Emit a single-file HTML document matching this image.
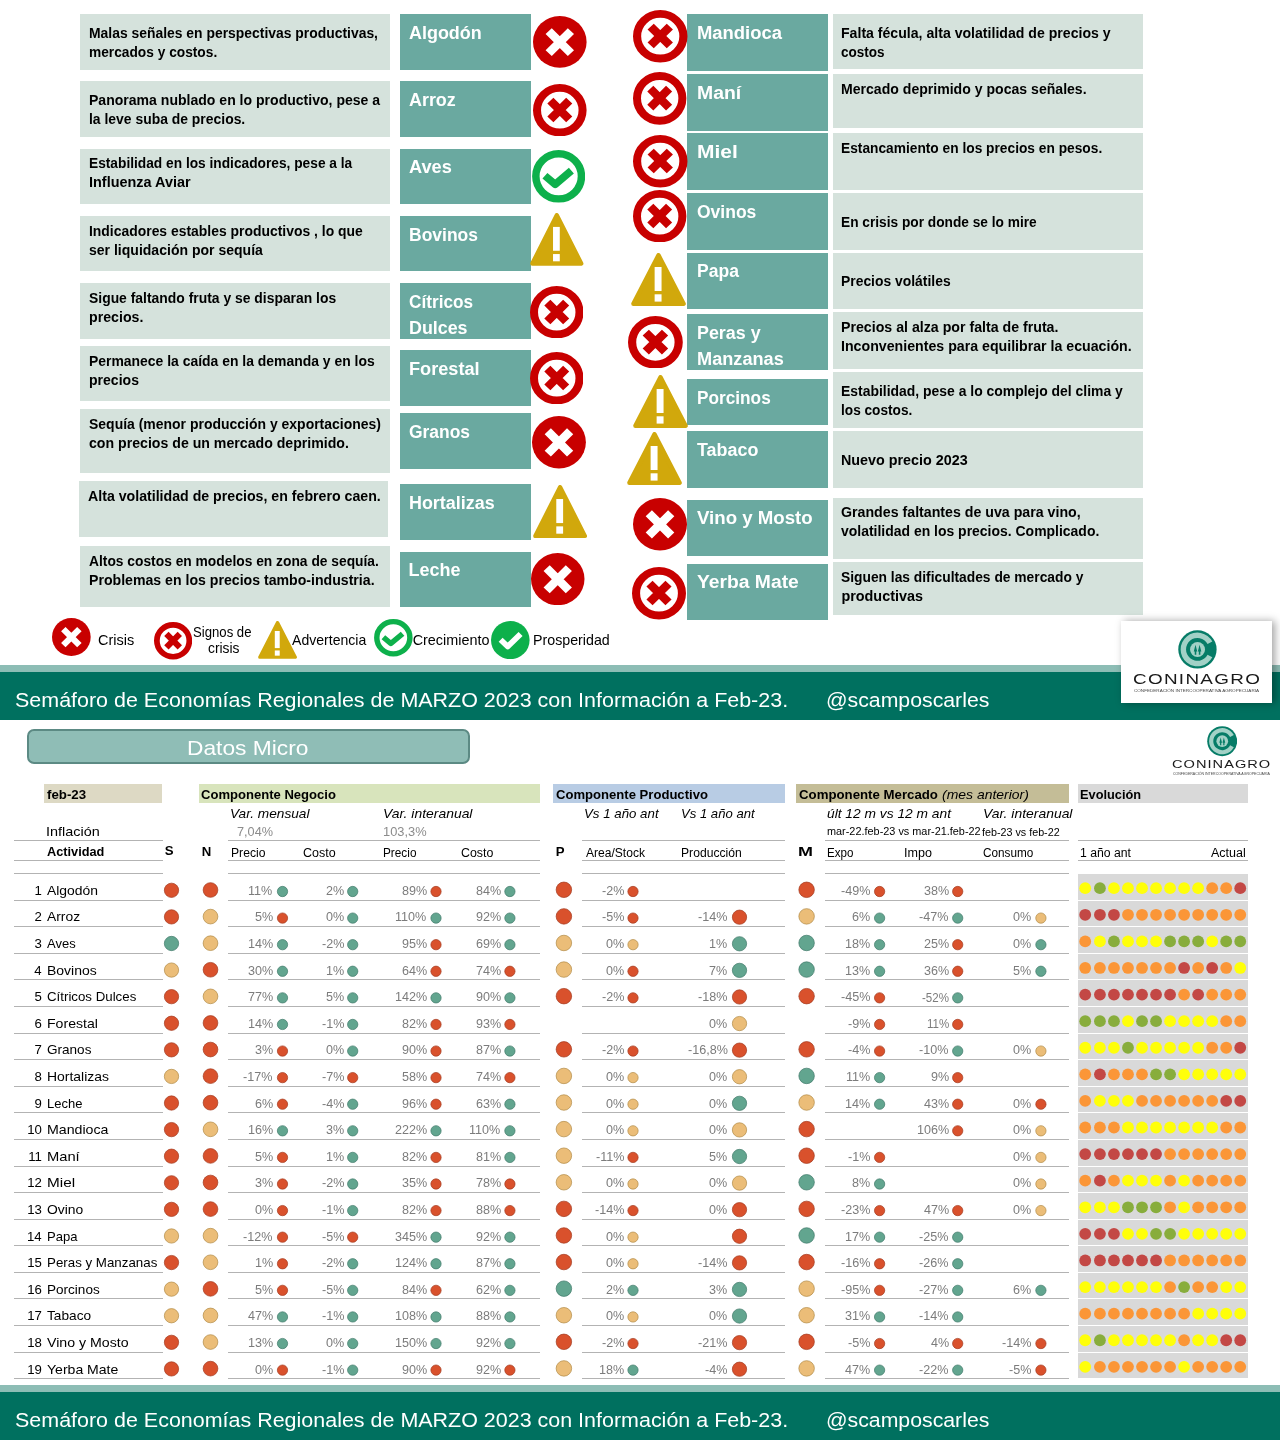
<!DOCTYPE html>
<html lang="es">
<head>
<meta charset="utf-8">
<meta name="viewport" content="width=1280">
<title>Semáforo de Economías Regionales - MARZO 2023</title>
<style>
html,body{margin:0;padding:0;background:#fff}
body{width:1280px;height:1440px;position:relative;overflow:hidden;font-family:"Liberation Sans",sans-serif;color:#000}
#pg{position:absolute;left:0;top:0;width:1280px;height:1440px;overflow:hidden;background:#fff}
.b,.t,.ic{position:absolute;display:block}
.t{white-space:pre;line-height:1;font-weight:400;font-style:normal;transform-origin:0 0}
.bd{font-weight:700}
.it{font-style:italic}
</style>
</head>
<body>
<div id="pg">
<div class="b" style="left:80px;top:14px;width:310px;height:56px;background:#d5e2dc;"></div>
<span class="t bd" style="left:89.05px;top:26px;font-size:14.4px;transform:scaleX(0.966);">Malas señales en perspectivas productivas,</span>
<span class="t bd" style="left:89.05px;top:45px;font-size:14.4px;transform:scaleX(0.954);">mercados y costos.</span>
<div class="b" style="left:80px;top:81px;width:310px;height:56px;background:#d5e2dc;"></div>
<span class="t bd" style="left:89.05px;top:93px;font-size:14.4px;transform:scaleX(0.976);">Panorama nublado en lo productivo, pese a</span>
<span class="t bd" style="left:89.05px;top:112px;font-size:14.4px;transform:scaleX(0.967);">la leve suba de precios.</span>
<div class="b" style="left:80px;top:149px;width:310px;height:55px;background:#d5e2dc;"></div>
<span class="t bd" style="left:89.05px;top:156px;font-size:14.4px;transform:scaleX(0.954);">Estabilidad en los indicadores, pese a la</span>
<span class="t bd" style="left:89.05px;top:175px;font-size:14.4px;transform:scaleX(1.003);">Influenza Aviar</span>
<div class="b" style="left:80px;top:216px;width:310px;height:55px;background:#d5e2dc;"></div>
<span class="t bd" style="left:89.05px;top:224px;font-size:14.4px;transform:scaleX(0.967);">Indicadores estables productivos , lo que</span>
<span class="t bd" style="left:89.05px;top:243px;font-size:14.4px;transform:scaleX(0.975);">ser liquidación por sequía</span>
<div class="b" style="left:80px;top:283px;width:310px;height:56px;background:#d5e2dc;"></div>
<span class="t bd" style="left:89.05px;top:291px;font-size:14.4px;transform:scaleX(0.966);">Sigue faltando fruta y se disparan los</span>
<span class="t bd" style="left:89.05px;top:310px;font-size:14.4px;transform:scaleX(0.985);">precios.</span>
<div class="b" style="left:80px;top:346px;width:310px;height:55px;background:#d5e2dc;"></div>
<span class="t bd" style="left:89.05px;top:354px;font-size:14.4px;transform:scaleX(0.968);">Permanece la caída en la demanda y en los</span>
<span class="t bd" style="left:89.05px;top:373px;font-size:14.4px;transform:scaleX(0.976);">precios</span>
<div class="b" style="left:80px;top:409px;width:310px;height:64px;background:#d5e2dc;"></div>
<span class="t bd" style="left:89.05px;top:417px;font-size:14.4px;transform:scaleX(0.971);">Sequía (menor producción y exportaciones)</span>
<span class="t bd" style="left:89.05px;top:436px;font-size:14.4px;transform:scaleX(0.982);">con precios de un mercado deprimido.</span>
<div class="b" style="left:79px;top:481px;width:309px;height:56px;background:#d5e2dc;"></div>
<span class="t bd" style="left:87.9px;top:489px;font-size:14.4px;transform:scaleX(0.984);">Alta volatilidad de precios, en febrero caen.</span>
<div class="b" style="left:80px;top:546px;width:310px;height:61px;background:#d5e2dc;"></div>
<span class="t bd" style="left:89.05px;top:554px;font-size:14.4px;transform:scaleX(0.959);">Altos costos en modelos en zona de sequía.</span>
<span class="t bd" style="left:89.05px;top:573px;font-size:14.4px;transform:scaleX(0.981);">Problemas en los precios tambo-industria.</span>
<div class="b" style="left:400px;top:14px;width:131px;height:56px;background:#6aa9a0;"></div>
<span class="t bd" style="left:408.5px;top:24px;font-size:18px;transform:scaleX(0.997);color:#fff;">Algodón</span>
<div class="b" style="left:400px;top:81px;width:131px;height:56px;background:#6aa9a0;"></div>
<span class="t bd" style="left:408.5px;top:91px;font-size:18px;transform:scaleX(0.995);color:#fff;">Arroz</span>
<div class="b" style="left:400px;top:149px;width:131px;height:55px;background:#6aa9a0;"></div>
<span class="t bd" style="left:408.5px;top:158px;font-size:18px;transform:scaleX(1.012);color:#fff;">Aves</span>
<div class="b" style="left:400px;top:216px;width:131px;height:55px;background:#6aa9a0;"></div>
<span class="t bd" style="left:408.5px;top:226px;font-size:18px;transform:scaleX(0.972);color:#fff;">Bovinos</span>
<div class="b" style="left:400px;top:283px;width:131px;height:56px;background:#6aa9a0;"></div>
<span class="t bd" style="left:408.5px;top:293px;font-size:18px;transform:scaleX(0.956);color:#fff;">Cítricos</span>
<span class="t bd" style="left:408.5px;top:319px;font-size:18px;transform:scaleX(0.992);color:#fff;">Dulces</span>
<div class="b" style="left:400px;top:350px;width:131px;height:56px;background:#6aa9a0;"></div>
<span class="t bd" style="left:408.5px;top:360px;font-size:18px;transform:scaleX(1.009);color:#fff;">Forestal</span>
<div class="b" style="left:400px;top:413px;width:131px;height:56px;background:#6aa9a0;"></div>
<span class="t bd" style="left:408.5px;top:423px;font-size:18px;transform:scaleX(0.969);color:#fff;">Granos</span>
<div class="b" style="left:400px;top:484px;width:131px;height:55.5px;background:#6aa9a0;"></div>
<span class="t bd" style="left:408.5px;top:494px;font-size:18px;transform:scaleX(0.995);color:#fff;">Hortalizas</span>
<div class="b" style="left:400px;top:552px;width:131px;height:55px;background:#6aa9a0;"></div>
<span class="t bd" style="left:408.5px;top:561px;font-size:18px;color:#fff;">Leche</span>
<div class="b" style="left:687px;top:14px;width:141px;height:56.75px;background:#6aa9a0;"></div>
<span class="t bd" style="left:696.9px;top:24px;font-size:18px;transform:scaleX(1.024);color:#fff;">Mandioca</span>
<div class="b" style="left:687px;top:74.25px;width:141px;height:56.5px;background:#6aa9a0;"></div>
<span class="t bd" style="left:696.9px;top:84px;font-size:18px;transform:scaleX(1.076);color:#fff;">Maní</span>
<div class="b" style="left:687px;top:133px;width:141px;height:57px;background:#6aa9a0;"></div>
<span class="t bd" style="left:696.9px;top:143px;font-size:18px;transform:scaleX(1.163);color:#fff;">Miel</span>
<div class="b" style="left:687px;top:193px;width:141px;height:57px;background:#6aa9a0;"></div>
<span class="t bd" style="left:696.9px;top:203px;font-size:18px;transform:scaleX(0.972);color:#fff;">Ovinos</span>
<div class="b" style="left:687px;top:253px;width:141px;height:56px;background:#6aa9a0;"></div>
<span class="t bd" style="left:696.9px;top:262px;font-size:18px;transform:scaleX(0.974);color:#fff;">Papa</span>
<div class="b" style="left:687px;top:314.25px;width:141px;height:55.75px;background:#6aa9a0;"></div>
<span class="t bd" style="left:696.9px;top:324px;font-size:18px;transform:scaleX(0.993);color:#fff;">Peras y</span>
<span class="t bd" style="left:696.9px;top:350px;font-size:18px;transform:scaleX(1.009);color:#fff;">Manzanas</span>
<div class="b" style="left:687px;top:379px;width:141px;height:46px;background:#6aa9a0;"></div>
<span class="t bd" style="left:696.9px;top:389px;font-size:18px;transform:scaleX(0.957);color:#fff;">Porcinos</span>
<div class="b" style="left:687px;top:431px;width:141px;height:57px;background:#6aa9a0;"></div>
<span class="t bd" style="left:696.9px;top:441px;font-size:18px;transform:scaleX(0.994);color:#fff;">Tabaco</span>
<div class="b" style="left:687px;top:500px;width:141px;height:56px;background:#6aa9a0;"></div>
<span class="t bd" style="left:696.9px;top:509px;font-size:18px;transform:scaleX(1.036);color:#fff;">Vino y Mosto</span>
<div class="b" style="left:687px;top:564px;width:141px;height:56px;background:#6aa9a0;"></div>
<span class="t bd" style="left:696.9px;top:573px;font-size:18px;transform:scaleX(1.071);color:#fff;">Yerba Mate</span>
<div class="b" style="left:833px;top:14px;width:310px;height:54.75px;background:#d5e2dc;"></div>
<span class="t bd" style="left:841.4px;top:26px;font-size:14.4px;transform:scaleX(0.980);">Falta fécula, alta volatilidad de precios y</span>
<span class="t bd" style="left:841.4px;top:45px;font-size:14.4px;transform:scaleX(0.940);">costos</span>
<div class="b" style="left:833px;top:74.25px;width:310px;height:53.75px;background:#d5e2dc;"></div>
<span class="t bd" style="left:841.4px;top:82px;font-size:14.4px;transform:scaleX(0.978);">Mercado deprimido y pocas señales.</span>
<div class="b" style="left:833px;top:133px;width:310px;height:57px;background:#d5e2dc;"></div>
<span class="t bd" style="left:841.4px;top:141px;font-size:14.4px;transform:scaleX(0.955);">Estancamiento en los precios en pesos.</span>
<div class="b" style="left:833px;top:193px;width:310px;height:57px;background:#d5e2dc;"></div>
<span class="t bd" style="left:841.4px;top:215px;font-size:14.4px;transform:scaleX(0.952);">En crisis por donde se lo mire</span>
<div class="b" style="left:833px;top:253px;width:310px;height:56px;background:#d5e2dc;"></div>
<span class="t bd" style="left:841.4px;top:274px;font-size:14.4px;transform:scaleX(0.965);">Precios volátiles</span>
<div class="b" style="left:833px;top:312px;width:310px;height:57px;background:#d5e2dc;"></div>
<span class="t bd" style="left:841.4px;top:320px;font-size:14.4px;transform:scaleX(0.985);">Precios al alza por falta de fruta.</span>
<span class="t bd" style="left:841.4px;top:339px;font-size:14.4px;transform:scaleX(0.985);">Inconvenientes para equilibrar la ecuación.</span>
<div class="b" style="left:833px;top:372px;width:310px;height:56px;background:#d5e2dc;"></div>
<span class="t bd" style="left:841.4px;top:384px;font-size:14.4px;transform:scaleX(0.968);">Estabilidad, pese a lo complejo del clima y</span>
<span class="t bd" style="left:841.4px;top:403px;font-size:14.4px;transform:scaleX(0.949);">los costos.</span>
<div class="b" style="left:833px;top:431px;width:310px;height:57px;background:#d5e2dc;"></div>
<span class="t bd" style="left:841.4px;top:453px;font-size:14.4px;transform:scaleX(0.996);">Nuevo precio 2023</span>
<div class="b" style="left:833px;top:498px;width:310px;height:61px;background:#d5e2dc;"></div>
<span class="t bd" style="left:841.4px;top:505px;font-size:14.4px;transform:scaleX(0.986);">Grandes faltantes de uva para vino,</span>
<span class="t bd" style="left:841.4px;top:524px;font-size:14.4px;transform:scaleX(0.970);">volatilidad en los precios. Complicado.</span>
<div class="b" style="left:833px;top:562px;width:310px;height:53px;background:#d5e2dc;"></div>
<span class="t bd" style="left:841.4px;top:570px;font-size:14.4px;transform:scaleX(0.959);">Siguen las dificultades de mercado y</span>
<span class="t bd" style="left:841.4px;top:589px;font-size:14.4px;">productivas</span>
<svg class="ic" style="left:533.4px;top:16.1px" width="53.6" height="51.8" viewBox="-27 -27 54 54" preserveAspectRatio="none"><circle r="27" fill="#c80000"/><path d="M-11.2-11.3 11.2 11.7M11.2-11.3-11.2 11.7" stroke="#fff" stroke-width="8.7" fill="none"/></svg>
<svg class="ic" style="left:533.4px;top:83.6px" width="53.6" height="52.4" viewBox="-27 -27 54 54" preserveAspectRatio="none"><circle r="22.95" fill="#fff" stroke="#c80000" stroke-width="8.1"/><path d="M-9.5-9.9 9.5 9.5M9.5-9.9-9.5 9.5" stroke="#c80000" stroke-width="8.6" fill="none"/></svg>
<svg class="ic" style="left:531.75px;top:150.05px" width="53.3" height="52.7" viewBox="-27 -27 54 54" preserveAspectRatio="none"><circle r="23.1" fill="#fff" stroke="#0db04b" stroke-width="7.6"/><path d="M-13.9-0.6-3.5 8.3 12.9-5.9" stroke="#0db04b" stroke-width="7.7" fill="none" stroke-linejoin="round"/></svg>
<svg class="ic" style="left:530.3px;top:213.1px" width="53.6" height="52.7" viewBox="0 0 54 53" preserveAspectRatio="none"><path d="M27 2.2 51.6 50.8H2.4Z" fill="#d1a80c" stroke="#d1a80c" stroke-width="4.4" stroke-linejoin="round"/><rect x="23.2" y="14" width="6.8" height="24" fill="#fff"/><rect x="23.2" y="41.3" width="6.8" height="7.3" fill="#fff"/></svg>
<svg class="ic" style="left:529.55px;top:285.5px" width="53.5" height="52.4" viewBox="-27 -27 54 54" preserveAspectRatio="none"><circle r="22.95" fill="#fff" stroke="#c80000" stroke-width="8.1"/><path d="M-9.5-9.9 9.5 9.5M9.5-9.9-9.5 9.5" stroke="#c80000" stroke-width="8.6" fill="none"/></svg>
<svg class="ic" style="left:529.55px;top:351.5px" width="53.5" height="52.4" viewBox="-27 -27 54 54" preserveAspectRatio="none"><circle r="22.95" fill="#fff" stroke="#c80000" stroke-width="8.1"/><path d="M-9.5-9.9 9.5 9.5M9.5-9.9-9.5 9.5" stroke="#c80000" stroke-width="8.6" fill="none"/></svg>
<svg class="ic" style="left:532.15px;top:416.25px" width="53.9" height="52.5" viewBox="-27 -27 54 54" preserveAspectRatio="none"><circle r="27" fill="#c80000"/><path d="M-11.2-11.3 11.2 11.7M11.2-11.3-11.2 11.7" stroke="#fff" stroke-width="8.7" fill="none"/></svg>
<svg class="ic" style="left:532.9px;top:484.9px" width="54.2" height="53.1" viewBox="0 0 54 53" preserveAspectRatio="none"><path d="M27 2.2 51.6 50.8H2.4Z" fill="#d1a80c" stroke="#d1a80c" stroke-width="4.4" stroke-linejoin="round"/><rect x="23.2" y="14" width="6.8" height="24" fill="#fff"/><rect x="23.2" y="41.3" width="6.8" height="7.3" fill="#fff"/></svg>
<svg class="ic" style="left:531.25px;top:553.3px" width="53.5" height="52.2" viewBox="-27 -27 54 54" preserveAspectRatio="none"><circle r="27" fill="#c80000"/><path d="M-11.2-11.3 11.2 11.7M11.2-11.3-11.2 11.7" stroke="#fff" stroke-width="8.7" fill="none"/></svg>
<svg class="ic" style="left:633.35px;top:10.2px" width="54.5" height="52.4" viewBox="-27 -27 54 54" preserveAspectRatio="none"><circle r="22.95" fill="#fff" stroke="#c80000" stroke-width="8.1"/><path d="M-9.5-9.9 9.5 9.5M9.5-9.9-9.5 9.5" stroke="#c80000" stroke-width="8.6" fill="none"/></svg>
<svg class="ic" style="left:633.4px;top:72.25px" width="53.4" height="52.7" viewBox="-27 -27 54 54" preserveAspectRatio="none"><circle r="22.95" fill="#fff" stroke="#c80000" stroke-width="8.1"/><path d="M-9.5-9.9 9.5 9.5M9.5-9.9-9.5 9.5" stroke="#c80000" stroke-width="8.6" fill="none"/></svg>
<svg class="ic" style="left:633.35px;top:135.2px" width="54.5" height="52.4" viewBox="-27 -27 54 54" preserveAspectRatio="none"><circle r="22.95" fill="#fff" stroke="#c80000" stroke-width="8.1"/><path d="M-9.5-9.9 9.5 9.5M9.5-9.9-9.5 9.5" stroke="#c80000" stroke-width="8.6" fill="none"/></svg>
<svg class="ic" style="left:633.4px;top:189.6px" width="53.4" height="52.4" viewBox="-27 -27 54 54" preserveAspectRatio="none"><circle r="22.95" fill="#fff" stroke="#c80000" stroke-width="8.1"/><path d="M-9.5-9.9 9.5 9.5M9.5-9.9-9.5 9.5" stroke="#c80000" stroke-width="8.6" fill="none"/></svg>
<svg class="ic" style="left:631px;top:253px" width="55" height="53" viewBox="0 0 54 53" preserveAspectRatio="none"><path d="M27 2.2 51.6 50.8H2.4Z" fill="#d1a80c" stroke="#d1a80c" stroke-width="4.4" stroke-linejoin="round"/><rect x="23.2" y="14" width="6.8" height="24" fill="#fff"/><rect x="23.2" y="41.3" width="6.8" height="7.3" fill="#fff"/></svg>
<svg class="ic" style="left:628.1px;top:315.5px" width="54.8" height="52.6" viewBox="-27 -27 54 54" preserveAspectRatio="none"><circle r="22.95" fill="#fff" stroke="#c80000" stroke-width="8.1"/><path d="M-9.5-9.9 9.5 9.5M9.5-9.9-9.5 9.5" stroke="#c80000" stroke-width="8.6" fill="none"/></svg>
<svg class="ic" style="left:633px;top:375px" width="55" height="53" viewBox="0 0 54 53" preserveAspectRatio="none"><path d="M27 2.2 51.6 50.8H2.4Z" fill="#d1a80c" stroke="#d1a80c" stroke-width="4.4" stroke-linejoin="round"/><rect x="23.2" y="14" width="6.8" height="24" fill="#fff"/><rect x="23.2" y="41.3" width="6.8" height="7.3" fill="#fff"/></svg>
<svg class="ic" style="left:627px;top:432px" width="55" height="53" viewBox="0 0 54 53" preserveAspectRatio="none"><path d="M27 2.2 51.6 50.8H2.4Z" fill="#d1a80c" stroke="#d1a80c" stroke-width="4.4" stroke-linejoin="round"/><rect x="23.2" y="14" width="6.8" height="24" fill="#fff"/><rect x="23.2" y="41.3" width="6.8" height="7.3" fill="#fff"/></svg>
<svg class="ic" style="left:633px;top:498.3px" width="54" height="52.4" viewBox="-27 -27 54 54" preserveAspectRatio="none"><circle r="27" fill="#c80000"/><path d="M-11.2-11.3 11.2 11.7M11.2-11.3-11.2 11.7" stroke="#fff" stroke-width="8.7" fill="none"/></svg>
<svg class="ic" style="left:632px;top:567.3px" width="54" height="52.4" viewBox="-27 -27 54 54" preserveAspectRatio="none"><circle r="22.95" fill="#fff" stroke="#c80000" stroke-width="8.1"/><path d="M-9.5-9.9 9.5 9.5M9.5-9.9-9.5 9.5" stroke="#c80000" stroke-width="8.6" fill="none"/></svg>
<svg class="ic" style="left:52.15px;top:618.2px" width="38.7" height="38" viewBox="-27 -27 54 54" preserveAspectRatio="none"><circle r="27" fill="#c80000"/><path d="M-11.2-11.3 11.2 11.7M11.2-11.3-11.2 11.7" stroke="#fff" stroke-width="8.7" fill="none"/></svg>
<span class="t" style="left:97.87px;top:633px;font-size:14.4px;transform:scaleX(1.009);">Crisis</span>
<svg class="ic" style="left:154.1px;top:622.25px" width="38.2" height="37.5" viewBox="-27 -27 54 54" preserveAspectRatio="none"><circle r="22.95" fill="#fff" stroke="#c80000" stroke-width="8.1"/><path d="M-9.5-9.9 9.5 9.5M9.5-9.9-9.5 9.5" stroke="#c80000" stroke-width="8.6" fill="none"/></svg>
<span class="t" style="left:193.41px;top:625px;font-size:14.4px;transform:scaleX(0.914);">Signos de</span>
<span class="t" style="left:207.71px;top:641px;font-size:14.4px;transform:scaleX(0.960);">crisis</span>
<svg class="ic" style="left:258px;top:621px" width="39.1" height="37.8" viewBox="0 0 54 53" preserveAspectRatio="none"><path d="M27 2.2 51.6 50.8H2.4Z" fill="#d1a80c" stroke="#d1a80c" stroke-width="4.4" stroke-linejoin="round"/><rect x="23.2" y="14" width="6.8" height="24" fill="#fff"/><rect x="23.2" y="41.3" width="6.8" height="7.3" fill="#fff"/></svg>
<span class="t" style="left:292.4px;top:633px;font-size:14.4px;transform:scaleX(0.977);">Advertencia</span>
<svg class="ic" style="left:373.95px;top:619.35px" width="38.7" height="37.5" viewBox="-27 -27 54 54" preserveAspectRatio="none"><circle r="23.1" fill="#fff" stroke="#0db04b" stroke-width="7.6"/><path d="M-13.9-0.6-3.5 8.3 12.9-5.9" stroke="#0db04b" stroke-width="7.7" fill="none" stroke-linejoin="round"/></svg>
<span class="t" style="left:412.68px;top:633px;font-size:14.4px;">Crecimiento</span>
<svg class="ic" style="left:491.2px;top:621px" width="38.6" height="38.2" viewBox="-27 -27 54 54" preserveAspectRatio="none"><circle r="27" fill="#0db04b"/><path d="M-13.5-0.5-3.6 9 14.4-8.6" stroke="#fff" stroke-width="8" fill="none" stroke-linejoin="round"/></svg>
<span class="t" style="left:532.76px;top:633px;font-size:14.4px;transform:scaleX(0.989);">Prosperidad</span>
<div class="b" style="left:0px;top:665px;width:1280px;height:7px;background:#8dbdb5;"></div>
<div class="b" style="left:0px;top:672px;width:1280px;height:48px;background:#00705f;"></div>
<span class="t" style="left:15.33px;top:690px;font-size:20.5px;transform:scaleX(1.047);color:#fff;">Semáforo de Economías Regionales de MARZO 2023 con Información a Feb-23.</span>
<span class="t" style="left:826.35px;top:690px;font-size:20.5px;transform:scaleX(1.037);color:#fff;">@scamposcarles</span>
<div class="b" style="left:1121px;top:621px;width:151px;height:82px;background:#fff;box-shadow:3px 0 8px rgba(0,0,0,.36);"></div>
<svg class="ic" style="left:1177.65px;top:629.65px" width="38.9" height="38.9" viewBox="-20 -20 40 40"><circle r="19.7" fill="#067c67"/><path d="M15.3-8.1A17.3 17.3 0 1 0 15.3 8.1L10.4 5.5A11.75 11.75 0 1 1 10.4-5.5Z" fill="#a2d1c6"/><circle cx=".1" r="7.7" fill="#a2d1c6"/><path d="M-2-4.9-.2 2H-1.2V5.5H-2.8V2H-3.8ZM2.2-4.9 4 2H3V5.5H1.4V2H.4Z" fill="#067c67"/></svg>
<span class="t" style="left:1133.26px;top:672px;font-size:14.8px;letter-spacing:1.04px;transform:scaleX(1.274);color:#1a1a1a;">CONINAGRO</span>
<svg class="ic" style="left:1134.2px;top:686.8px" width="125" height="6" viewBox="0 0 125 6"><text x="0" y="4.6" font-size="3.6" fill="#444" textLength="125" lengthAdjust="spacingAndGlyphs" font-family="Liberation Sans, sans-serif">CONFEDERACIÓN INTERCOOPERATIVA AGROPECUARIA</text></svg>
<div class="b" style="left:27px;top:729px;width:443px;height:35px;background:#8fbdb6;border:2px solid #5c8a84;border-radius:7px;box-sizing:border-box"></div>
<span class="t" style="left:186.98px;top:738px;font-size:20.6px;transform:scaleX(1.105);color:#fff;">Datos Micro</span>
<svg class="ic" style="left:1206.6px;top:726.3px" width="30.4" height="30.4" viewBox="-20 -20 40 40"><circle r="19.7" fill="#067c67"/><path d="M15.3-8.1A17.3 17.3 0 1 0 15.3 8.1L10.4 5.5A11.75 11.75 0 1 1 10.4-5.5Z" fill="#a2d1c6"/><circle cx=".1" r="7.7" fill="#a2d1c6"/><path d="M-2-4.9-.2 2H-1.2V5.5H-2.8V2H-3.8ZM2.2-4.9 4 2H3V5.5H1.4V2H.4Z" fill="#067c67"/></svg>
<span class="t" style="left:1172.37px;top:759px;font-size:11px;letter-spacing:0.77px;transform:scaleX(1.327);color:#1a1a1a;">CONINAGRO</span>
<svg class="ic" style="left:1173.1px;top:770.2px" width="96.8" height="6" viewBox="0 0 96.8 6"><text x="0" y="4.6" font-size="2.8" fill="#444" textLength="96.8" lengthAdjust="spacingAndGlyphs" font-family="Liberation Sans, sans-serif">CONFEDERACIÓN INTERCOOPERATIVA AGROPECUARIA</text></svg>
<div class="b" style="left:44px;top:784.4px;width:118px;height:18.3px;background:#ddd9c4;"></div>
<div class="b" style="left:199px;top:784.4px;width:341px;height:18.3px;background:#d8e4bc;"></div>
<div class="b" style="left:553px;top:784.4px;width:232px;height:18.3px;background:#b8cce4;"></div>
<div class="b" style="left:796.2px;top:784.4px;width:272.6px;height:18.3px;background:#c4bd97;"></div>
<div class="b" style="left:1078px;top:784.4px;width:170px;height:18.3px;background:#d9d9d9;"></div>
<span class="t bd" style="left:47.3px;top:788px;font-size:13.2px;transform:scaleX(1.007);">feb-23</span>
<span class="t bd" style="left:201.48px;top:788px;font-size:13.2px;transform:scaleX(0.990);">Componente Negocio</span>
<span class="t bd" style="left:555.78px;top:788px;font-size:13.2px;transform:scaleX(0.992);">Componente Productivo</span>
<span class="t bd" style="left:798.97px;top:788px;font-size:13.2px;transform:scaleX(1.003);">Componente Mercado</span>
<span class="t it" style="left:941.87px;top:788px;font-size:13.2px;transform:scaleX(1.058);">(mes anterior)</span>
<span class="t bd" style="left:1080.37px;top:788px;font-size:13.2px;transform:scaleX(0.969);">Evolución</span>
<span class="t it" style="left:230.14px;top:807px;font-size:13.2px;transform:scaleX(1.036);">Var. mensual</span>
<span class="t it" style="left:382.62px;top:807px;font-size:13.2px;transform:scaleX(1.055);">Var. interanual</span>
<span class="t it" style="left:584.37px;top:807px;font-size:13.2px;transform:scaleX(1.007);">Vs 1 año ant</span>
<span class="t it" style="left:680.88px;top:807px;font-size:13.2px;transform:scaleX(0.994);">Vs 1 año ant</span>
<span class="t it" style="left:827.45px;top:807px;font-size:13.2px;transform:scaleX(1.044);">últ 12 m vs 12 m ant</span>
<span class="t it" style="left:982.62px;top:807px;font-size:13.2px;transform:scaleX(1.055);">Var. interanual</span>
<span class="t" style="left:46.2px;top:825px;font-size:13.2px;transform:scaleX(1.093);">Inflación</span>
<span class="t" style="left:236.86px;top:825px;font-size:13.2px;transform:scaleX(0.963);color:#8c8c8c;">7,04%</span>
<span class="t" style="left:382.84px;top:825px;font-size:13.2px;transform:scaleX(0.974);color:#8c8c8c;">103,3%</span>
<span class="t" style="left:826.79px;top:826px;font-size:10.8px;transform:scaleX(1.008);">mar-22.feb-23 vs mar-21.feb-22</span>
<span class="t" style="left:982.37px;top:827px;font-size:10.8px;transform:scaleX(0.995);">feb-23 vs feb-22</span>
<div class="b" style="left:14px;top:840px;width:148.5px;height:1px;background:#b3b3b3"></div>
<div class="b" style="left:14px;top:860px;width:148.5px;height:1px;background:#b3b3b3"></div>
<div class="b" style="left:228.3px;top:840px;width:311.7px;height:1px;background:#b3b3b3"></div>
<div class="b" style="left:228.3px;top:860px;width:311.7px;height:1px;background:#b3b3b3"></div>
<div class="b" style="left:582px;top:840px;width:203px;height:1px;background:#b3b3b3"></div>
<div class="b" style="left:582px;top:860px;width:203px;height:1px;background:#b3b3b3"></div>
<div class="b" style="left:825px;top:840px;width:243.8px;height:1px;background:#b3b3b3"></div>
<div class="b" style="left:825px;top:860px;width:243.8px;height:1px;background:#b3b3b3"></div>
<div class="b" style="left:1078px;top:840px;width:170px;height:1px;background:#b3b3b3"></div>
<div class="b" style="left:1078px;top:860px;width:170px;height:1px;background:#b3b3b3"></div>
<span class="t bd" style="left:47.18px;top:845px;font-size:13.2px;transform:scaleX(0.967);">Actividad</span>
<span class="t bd" style="left:164.64px;top:844px;font-size:13.2px;">S</span>
<span class="t bd" style="left:201.64px;top:845px;font-size:13.2px;">N</span>
<span class="t bd" style="left:555.64px;top:845px;font-size:13.2px;">P</span>
<span class="t bd" style="left:798.43px;top:845px;font-size:13.6px;transform:scaleX(1.319);">M</span>
<span class="t" style="left:230.53px;top:847px;font-size:12px;transform:scaleX(1.014);">Precio</span>
<span class="t" style="left:302.68px;top:847px;font-size:12px;transform:scaleX(1.042);">Costo</span>
<span class="t" style="left:382.86px;top:847px;font-size:12px;transform:scaleX(0.983);">Precio</span>
<span class="t" style="left:460.68px;top:847px;font-size:12px;transform:scaleX(1.032);">Costo</span>
<span class="t" style="left:585.5px;top:847px;font-size:12px;transform:scaleX(1.005);">Area/Stock</span>
<span class="t" style="left:681.03px;top:847px;font-size:12px;transform:scaleX(1.012);">Producción</span>
<span class="t" style="left:827.37px;top:847px;font-size:12px;transform:scaleX(0.966);">Expo</span>
<span class="t" style="left:904.37px;top:847px;font-size:12px;transform:scaleX(1.047);">Impo</span>
<span class="t" style="left:982.71px;top:847px;font-size:12px;transform:scaleX(0.979);">Consumo</span>
<span class="t" style="left:1080.38px;top:847px;font-size:12px;transform:scaleX(1.019);">1 año ant</span>
<span class="t" style="left:1211px;top:847px;font-size:12px;transform:scaleX(1.044);">Actual</span>
<div class="b" style="left:1078px;top:874px;width:170px;height:505px;background:#d9d9d9;"></div>
<div class="b" style="left:14px;top:873px;width:148.5px;height:1px;background:#b3b3b3"></div>
<div class="b" style="left:228.3px;top:873px;width:311.7px;height:1px;background:#b3b3b3"></div>
<div class="b" style="left:582px;top:873px;width:203px;height:1px;background:#b3b3b3"></div>
<div class="b" style="left:825px;top:873px;width:243.8px;height:1px;background:#b3b3b3"></div>
<div class="b" style="left:14px;top:900px;width:148.5px;height:1px;background:#b3b3b3"></div>
<div class="b" style="left:228.3px;top:900px;width:311.7px;height:1px;background:#b3b3b3"></div>
<div class="b" style="left:582px;top:900px;width:203px;height:1px;background:#b3b3b3"></div>
<div class="b" style="left:825px;top:900px;width:243.8px;height:1px;background:#b3b3b3"></div>
<div class="b" style="left:1078px;top:900px;width:170px;height:1px;background:#fff"></div>
<div class="b" style="left:14px;top:926px;width:148.5px;height:1px;background:#b3b3b3"></div>
<div class="b" style="left:228.3px;top:926px;width:311.7px;height:1px;background:#b3b3b3"></div>
<div class="b" style="left:582px;top:926px;width:203px;height:1px;background:#b3b3b3"></div>
<div class="b" style="left:825px;top:926px;width:243.8px;height:1px;background:#b3b3b3"></div>
<div class="b" style="left:1078px;top:926px;width:170px;height:1px;background:#fff"></div>
<div class="b" style="left:14px;top:953px;width:148.5px;height:1px;background:#b3b3b3"></div>
<div class="b" style="left:228.3px;top:953px;width:311.7px;height:1px;background:#b3b3b3"></div>
<div class="b" style="left:582px;top:953px;width:203px;height:1px;background:#b3b3b3"></div>
<div class="b" style="left:825px;top:953px;width:243.8px;height:1px;background:#b3b3b3"></div>
<div class="b" style="left:1078px;top:953px;width:170px;height:1px;background:#fff"></div>
<div class="b" style="left:14px;top:979px;width:148.5px;height:1px;background:#b3b3b3"></div>
<div class="b" style="left:228.3px;top:979px;width:311.7px;height:1px;background:#b3b3b3"></div>
<div class="b" style="left:582px;top:979px;width:203px;height:1px;background:#b3b3b3"></div>
<div class="b" style="left:825px;top:979px;width:243.8px;height:1px;background:#b3b3b3"></div>
<div class="b" style="left:1078px;top:979px;width:170px;height:1px;background:#fff"></div>
<div class="b" style="left:14px;top:1006px;width:148.5px;height:1px;background:#b3b3b3"></div>
<div class="b" style="left:228.3px;top:1006px;width:311.7px;height:1px;background:#b3b3b3"></div>
<div class="b" style="left:582px;top:1006px;width:203px;height:1px;background:#b3b3b3"></div>
<div class="b" style="left:825px;top:1006px;width:243.8px;height:1px;background:#b3b3b3"></div>
<div class="b" style="left:1078px;top:1006px;width:170px;height:1px;background:#fff"></div>
<div class="b" style="left:14px;top:1033px;width:148.5px;height:1px;background:#b3b3b3"></div>
<div class="b" style="left:228.3px;top:1033px;width:311.7px;height:1px;background:#b3b3b3"></div>
<div class="b" style="left:582px;top:1033px;width:203px;height:1px;background:#b3b3b3"></div>
<div class="b" style="left:825px;top:1033px;width:243.8px;height:1px;background:#b3b3b3"></div>
<div class="b" style="left:1078px;top:1033px;width:170px;height:1px;background:#fff"></div>
<div class="b" style="left:14px;top:1059px;width:148.5px;height:1px;background:#b3b3b3"></div>
<div class="b" style="left:228.3px;top:1059px;width:311.7px;height:1px;background:#b3b3b3"></div>
<div class="b" style="left:582px;top:1059px;width:203px;height:1px;background:#b3b3b3"></div>
<div class="b" style="left:825px;top:1059px;width:243.8px;height:1px;background:#b3b3b3"></div>
<div class="b" style="left:1078px;top:1059px;width:170px;height:1px;background:#fff"></div>
<div class="b" style="left:14px;top:1086px;width:148.5px;height:1px;background:#b3b3b3"></div>
<div class="b" style="left:228.3px;top:1086px;width:311.7px;height:1px;background:#b3b3b3"></div>
<div class="b" style="left:582px;top:1086px;width:203px;height:1px;background:#b3b3b3"></div>
<div class="b" style="left:825px;top:1086px;width:243.8px;height:1px;background:#b3b3b3"></div>
<div class="b" style="left:1078px;top:1086px;width:170px;height:1px;background:#fff"></div>
<div class="b" style="left:14px;top:1112px;width:148.5px;height:1px;background:#b3b3b3"></div>
<div class="b" style="left:228.3px;top:1112px;width:311.7px;height:1px;background:#b3b3b3"></div>
<div class="b" style="left:582px;top:1112px;width:203px;height:1px;background:#b3b3b3"></div>
<div class="b" style="left:825px;top:1112px;width:243.8px;height:1px;background:#b3b3b3"></div>
<div class="b" style="left:1078px;top:1112px;width:170px;height:1px;background:#fff"></div>
<div class="b" style="left:14px;top:1139px;width:148.5px;height:1px;background:#b3b3b3"></div>
<div class="b" style="left:228.3px;top:1139px;width:311.7px;height:1px;background:#b3b3b3"></div>
<div class="b" style="left:582px;top:1139px;width:203px;height:1px;background:#b3b3b3"></div>
<div class="b" style="left:825px;top:1139px;width:243.8px;height:1px;background:#b3b3b3"></div>
<div class="b" style="left:1078px;top:1139px;width:170px;height:1px;background:#fff"></div>
<div class="b" style="left:14px;top:1166px;width:148.5px;height:1px;background:#b3b3b3"></div>
<div class="b" style="left:228.3px;top:1166px;width:311.7px;height:1px;background:#b3b3b3"></div>
<div class="b" style="left:582px;top:1166px;width:203px;height:1px;background:#b3b3b3"></div>
<div class="b" style="left:825px;top:1166px;width:243.8px;height:1px;background:#b3b3b3"></div>
<div class="b" style="left:1078px;top:1166px;width:170px;height:1px;background:#fff"></div>
<div class="b" style="left:14px;top:1192px;width:148.5px;height:1px;background:#b3b3b3"></div>
<div class="b" style="left:228.3px;top:1192px;width:311.7px;height:1px;background:#b3b3b3"></div>
<div class="b" style="left:582px;top:1192px;width:203px;height:1px;background:#b3b3b3"></div>
<div class="b" style="left:825px;top:1192px;width:243.8px;height:1px;background:#b3b3b3"></div>
<div class="b" style="left:1078px;top:1192px;width:170px;height:1px;background:#fff"></div>
<div class="b" style="left:14px;top:1219px;width:148.5px;height:1px;background:#b3b3b3"></div>
<div class="b" style="left:228.3px;top:1219px;width:311.7px;height:1px;background:#b3b3b3"></div>
<div class="b" style="left:582px;top:1219px;width:203px;height:1px;background:#b3b3b3"></div>
<div class="b" style="left:825px;top:1219px;width:243.8px;height:1px;background:#b3b3b3"></div>
<div class="b" style="left:1078px;top:1219px;width:170px;height:1px;background:#fff"></div>
<div class="b" style="left:14px;top:1245px;width:148.5px;height:1px;background:#b3b3b3"></div>
<div class="b" style="left:228.3px;top:1245px;width:311.7px;height:1px;background:#b3b3b3"></div>
<div class="b" style="left:582px;top:1245px;width:203px;height:1px;background:#b3b3b3"></div>
<div class="b" style="left:825px;top:1245px;width:243.8px;height:1px;background:#b3b3b3"></div>
<div class="b" style="left:1078px;top:1245px;width:170px;height:1px;background:#fff"></div>
<div class="b" style="left:14px;top:1272px;width:148.5px;height:1px;background:#b3b3b3"></div>
<div class="b" style="left:228.3px;top:1272px;width:311.7px;height:1px;background:#b3b3b3"></div>
<div class="b" style="left:582px;top:1272px;width:203px;height:1px;background:#b3b3b3"></div>
<div class="b" style="left:825px;top:1272px;width:243.8px;height:1px;background:#b3b3b3"></div>
<div class="b" style="left:1078px;top:1272px;width:170px;height:1px;background:#fff"></div>
<div class="b" style="left:14px;top:1298px;width:148.5px;height:1px;background:#b3b3b3"></div>
<div class="b" style="left:228.3px;top:1298px;width:311.7px;height:1px;background:#b3b3b3"></div>
<div class="b" style="left:582px;top:1298px;width:203px;height:1px;background:#b3b3b3"></div>
<div class="b" style="left:825px;top:1298px;width:243.8px;height:1px;background:#b3b3b3"></div>
<div class="b" style="left:1078px;top:1298px;width:170px;height:1px;background:#fff"></div>
<div class="b" style="left:14px;top:1325px;width:148.5px;height:1px;background:#b3b3b3"></div>
<div class="b" style="left:228.3px;top:1325px;width:311.7px;height:1px;background:#b3b3b3"></div>
<div class="b" style="left:582px;top:1325px;width:203px;height:1px;background:#b3b3b3"></div>
<div class="b" style="left:825px;top:1325px;width:243.8px;height:1px;background:#b3b3b3"></div>
<div class="b" style="left:1078px;top:1325px;width:170px;height:1px;background:#fff"></div>
<div class="b" style="left:14px;top:1352px;width:148.5px;height:1px;background:#b3b3b3"></div>
<div class="b" style="left:228.3px;top:1352px;width:311.7px;height:1px;background:#b3b3b3"></div>
<div class="b" style="left:582px;top:1352px;width:203px;height:1px;background:#b3b3b3"></div>
<div class="b" style="left:825px;top:1352px;width:243.8px;height:1px;background:#b3b3b3"></div>
<div class="b" style="left:1078px;top:1352px;width:170px;height:1px;background:#fff"></div>
<div class="b" style="left:14px;top:1378px;width:148.5px;height:1px;background:#b3b3b3"></div>
<div class="b" style="left:228.3px;top:1378px;width:311.7px;height:1px;background:#b3b3b3"></div>
<div class="b" style="left:582px;top:1378px;width:203px;height:1px;background:#b3b3b3"></div>
<div class="b" style="left:825px;top:1378px;width:243.8px;height:1px;background:#b3b3b3"></div>
<div class="b" style="left:1078px;top:1378px;width:170px;height:1px;background:#fff"></div>
<span class="t" style="left:34.6px;top:884px;font-size:13.2px;">1</span>
<span class="t" style="left:47px;top:884px;font-size:13.2px;transform:scaleX(1.054);">Algodón</span>
<span class="t" style="left:248.44px;top:884px;font-size:13.2px;transform:scaleX(0.955);color:#7c7c7c;">11%</span>
<span class="t" style="left:325.73px;top:884px;font-size:13.2px;transform:scaleX(0.955);color:#7c7c7c;">2%</span>
<span class="t" style="left:401.5px;top:884px;font-size:13.2px;transform:scaleX(0.955);color:#7c7c7c;">89%</span>
<span class="t" style="left:475.5px;top:884px;font-size:13.2px;transform:scaleX(0.955);color:#7c7c7c;">84%</span>
<span class="t" style="left:601.7px;top:884px;font-size:13.2px;transform:scaleX(0.955);color:#7c7c7c;">-2%</span>
<span class="t" style="left:840.51px;top:884px;font-size:13.2px;transform:scaleX(0.955);color:#7c7c7c;">-49%</span>
<span class="t" style="left:923.6px;top:884px;font-size:13.2px;transform:scaleX(0.955);color:#7c7c7c;">38%</span>
<span class="t" style="left:34.6px;top:910px;font-size:13.2px;">2</span>
<span class="t" style="left:47px;top:910px;font-size:13.2px;transform:scaleX(1.051);">Arroz</span>
<span class="t" style="left:254.53px;top:910px;font-size:13.2px;transform:scaleX(0.955);color:#7c7c7c;">5%</span>
<span class="t" style="left:325.73px;top:910px;font-size:13.2px;transform:scaleX(0.955);color:#7c7c7c;">0%</span>
<span class="t" style="left:395.42px;top:910px;font-size:13.2px;transform:scaleX(0.955);color:#7c7c7c;">110%</span>
<span class="t" style="left:475.5px;top:910px;font-size:13.2px;transform:scaleX(0.955);color:#7c7c7c;">92%</span>
<span class="t" style="left:601.7px;top:910px;font-size:13.2px;transform:scaleX(0.955);color:#7c7c7c;">-5%</span>
<span class="t" style="left:698.11px;top:910px;font-size:13.2px;transform:scaleX(0.955);color:#7c7c7c;">-14%</span>
<span class="t" style="left:851.73px;top:910px;font-size:13.2px;transform:scaleX(0.955);color:#7c7c7c;">6%</span>
<span class="t" style="left:919.41px;top:910px;font-size:13.2px;transform:scaleX(0.955);color:#7c7c7c;">-47%</span>
<span class="t" style="left:1013.43px;top:910px;font-size:13.2px;transform:scaleX(0.955);color:#7c7c7c;">0%</span>
<span class="t" style="left:34.53px;top:937px;font-size:13.2px;">3</span>
<span class="t" style="left:47px;top:937px;font-size:13.2px;transform:scaleX(0.984);">Aves</span>
<span class="t" style="left:247.5px;top:937px;font-size:13.2px;transform:scaleX(0.955);color:#7c7c7c;">14%</span>
<span class="t" style="left:321.5px;top:937px;font-size:13.2px;transform:scaleX(0.955);color:#7c7c7c;">-2%</span>
<span class="t" style="left:401.5px;top:937px;font-size:13.2px;transform:scaleX(0.955);color:#7c7c7c;">95%</span>
<span class="t" style="left:475.5px;top:937px;font-size:13.2px;transform:scaleX(0.955);color:#7c7c7c;">69%</span>
<span class="t" style="left:605.93px;top:937px;font-size:13.2px;transform:scaleX(0.955);color:#7c7c7c;">0%</span>
<span class="t" style="left:709.33px;top:937px;font-size:13.2px;transform:scaleX(0.955);color:#7c7c7c;">1%</span>
<span class="t" style="left:844.7px;top:937px;font-size:13.2px;transform:scaleX(0.955);color:#7c7c7c;">18%</span>
<span class="t" style="left:923.6px;top:937px;font-size:13.2px;transform:scaleX(0.955);color:#7c7c7c;">25%</span>
<span class="t" style="left:1013.43px;top:937px;font-size:13.2px;transform:scaleX(0.955);color:#7c7c7c;">0%</span>
<span class="t" style="left:34.34px;top:964px;font-size:13.2px;">4</span>
<span class="t" style="left:47px;top:964px;font-size:13.2px;transform:scaleX(1.061);">Bovinos</span>
<span class="t" style="left:247.5px;top:964px;font-size:13.2px;transform:scaleX(0.955);color:#7c7c7c;">30%</span>
<span class="t" style="left:325.73px;top:964px;font-size:13.2px;transform:scaleX(0.955);color:#7c7c7c;">1%</span>
<span class="t" style="left:401.5px;top:964px;font-size:13.2px;transform:scaleX(0.955);color:#7c7c7c;">64%</span>
<span class="t" style="left:475.5px;top:964px;font-size:13.2px;transform:scaleX(0.955);color:#7c7c7c;">74%</span>
<span class="t" style="left:605.93px;top:964px;font-size:13.2px;transform:scaleX(0.955);color:#7c7c7c;">0%</span>
<span class="t" style="left:709.33px;top:964px;font-size:13.2px;transform:scaleX(0.955);color:#7c7c7c;">7%</span>
<span class="t" style="left:844.7px;top:964px;font-size:13.2px;transform:scaleX(0.955);color:#7c7c7c;">13%</span>
<span class="t" style="left:923.6px;top:964px;font-size:13.2px;transform:scaleX(0.955);color:#7c7c7c;">36%</span>
<span class="t" style="left:1013.43px;top:964px;font-size:13.2px;transform:scaleX(0.955);color:#7c7c7c;">5%</span>
<span class="t" style="left:34.5px;top:990px;font-size:13.2px;">5</span>
<span class="t" style="left:47px;top:990px;font-size:13.2px;transform:scaleX(1.007);">Cítricos Dulces</span>
<span class="t" style="left:247.5px;top:990px;font-size:13.2px;transform:scaleX(0.955);color:#7c7c7c;">77%</span>
<span class="t" style="left:325.73px;top:990px;font-size:13.2px;transform:scaleX(0.955);color:#7c7c7c;">5%</span>
<span class="t" style="left:394.5px;top:990px;font-size:13.2px;transform:scaleX(0.955);color:#7c7c7c;">142%</span>
<span class="t" style="left:475.5px;top:990px;font-size:13.2px;transform:scaleX(0.955);color:#7c7c7c;">90%</span>
<span class="t" style="left:601.7px;top:990px;font-size:13.2px;transform:scaleX(0.955);color:#7c7c7c;">-2%</span>
<span class="t" style="left:698.11px;top:990px;font-size:13.2px;transform:scaleX(0.955);color:#7c7c7c;">-18%</span>
<span class="t" style="left:840.51px;top:990px;font-size:13.2px;transform:scaleX(0.955);color:#7c7c7c;">-45%</span>
<span class="t" style="left:921.82px;top:992px;font-size:12.1px;transform:scaleX(0.955);color:#7c7c7c;">-52%</span>
<span class="t" style="left:34.53px;top:1017px;font-size:13.2px;">6</span>
<span class="t" style="left:47px;top:1017px;font-size:13.2px;transform:scaleX(1.068);">Forestal</span>
<span class="t" style="left:247.5px;top:1017px;font-size:13.2px;transform:scaleX(0.955);color:#7c7c7c;">14%</span>
<span class="t" style="left:321.5px;top:1017px;font-size:13.2px;transform:scaleX(0.955);color:#7c7c7c;">-1%</span>
<span class="t" style="left:401.5px;top:1017px;font-size:13.2px;transform:scaleX(0.955);color:#7c7c7c;">82%</span>
<span class="t" style="left:475.5px;top:1017px;font-size:13.2px;transform:scaleX(0.955);color:#7c7c7c;">93%</span>
<span class="t" style="left:709.33px;top:1017px;font-size:13.2px;transform:scaleX(0.955);color:#7c7c7c;">0%</span>
<span class="t" style="left:847.5px;top:1017px;font-size:13.2px;transform:scaleX(0.955);color:#7c7c7c;">-9%</span>
<span class="t" style="left:926.53px;top:1018px;font-size:12.1px;transform:scaleX(0.955);color:#7c7c7c;">11%</span>
<span class="t" style="left:34.6px;top:1043px;font-size:13.2px;">7</span>
<span class="t" style="left:47px;top:1043px;font-size:13.2px;transform:scaleX(1.027);">Granos</span>
<span class="t" style="left:254.53px;top:1043px;font-size:13.2px;transform:scaleX(0.955);color:#7c7c7c;">3%</span>
<span class="t" style="left:325.73px;top:1043px;font-size:13.2px;transform:scaleX(0.955);color:#7c7c7c;">0%</span>
<span class="t" style="left:401.5px;top:1043px;font-size:13.2px;transform:scaleX(0.955);color:#7c7c7c;">90%</span>
<span class="t" style="left:475.5px;top:1043px;font-size:13.2px;transform:scaleX(0.955);color:#7c7c7c;">87%</span>
<span class="t" style="left:601.7px;top:1043px;font-size:13.2px;transform:scaleX(0.955);color:#7c7c7c;">-2%</span>
<span class="t" style="left:687.58px;top:1043px;font-size:13.2px;transform:scaleX(0.955);color:#7c7c7c;">-16,8%</span>
<span class="t" style="left:847.5px;top:1043px;font-size:13.2px;transform:scaleX(0.955);color:#7c7c7c;">-4%</span>
<span class="t" style="left:919.41px;top:1043px;font-size:13.2px;transform:scaleX(0.955);color:#7c7c7c;">-10%</span>
<span class="t" style="left:1013.43px;top:1043px;font-size:13.2px;transform:scaleX(0.955);color:#7c7c7c;">0%</span>
<span class="t" style="left:34.5px;top:1070px;font-size:13.2px;">8</span>
<span class="t" style="left:47px;top:1070px;font-size:13.2px;transform:scaleX(1.057);">Hortalizas</span>
<span class="t" style="left:243.31px;top:1070px;font-size:13.2px;transform:scaleX(0.955);color:#7c7c7c;">-17%</span>
<span class="t" style="left:321.5px;top:1070px;font-size:13.2px;transform:scaleX(0.955);color:#7c7c7c;">-7%</span>
<span class="t" style="left:401.5px;top:1070px;font-size:13.2px;transform:scaleX(0.955);color:#7c7c7c;">58%</span>
<span class="t" style="left:475.5px;top:1070px;font-size:13.2px;transform:scaleX(0.955);color:#7c7c7c;">74%</span>
<span class="t" style="left:605.93px;top:1070px;font-size:13.2px;transform:scaleX(0.955);color:#7c7c7c;">0%</span>
<span class="t" style="left:709.33px;top:1070px;font-size:13.2px;transform:scaleX(0.955);color:#7c7c7c;">0%</span>
<span class="t" style="left:845.64px;top:1070px;font-size:13.2px;transform:scaleX(0.955);color:#7c7c7c;">11%</span>
<span class="t" style="left:930.63px;top:1070px;font-size:13.2px;transform:scaleX(0.955);color:#7c7c7c;">9%</span>
<span class="t" style="left:34.57px;top:1097px;font-size:13.2px;">9</span>
<span class="t" style="left:47px;top:1097px;font-size:13.2px;transform:scaleX(0.985);">Leche</span>
<span class="t" style="left:254.53px;top:1097px;font-size:13.2px;transform:scaleX(0.955);color:#7c7c7c;">6%</span>
<span class="t" style="left:321.5px;top:1097px;font-size:13.2px;transform:scaleX(0.955);color:#7c7c7c;">-4%</span>
<span class="t" style="left:401.5px;top:1097px;font-size:13.2px;transform:scaleX(0.955);color:#7c7c7c;">96%</span>
<span class="t" style="left:475.5px;top:1097px;font-size:13.2px;transform:scaleX(0.955);color:#7c7c7c;">63%</span>
<span class="t" style="left:605.93px;top:1097px;font-size:13.2px;transform:scaleX(0.955);color:#7c7c7c;">0%</span>
<span class="t" style="left:709.33px;top:1097px;font-size:13.2px;transform:scaleX(0.955);color:#7c7c7c;">0%</span>
<span class="t" style="left:844.7px;top:1097px;font-size:13.2px;transform:scaleX(0.955);color:#7c7c7c;">14%</span>
<span class="t" style="left:923.6px;top:1097px;font-size:13.2px;transform:scaleX(0.955);color:#7c7c7c;">43%</span>
<span class="t" style="left:1013.43px;top:1097px;font-size:13.2px;transform:scaleX(0.955);color:#7c7c7c;">0%</span>
<span class="t" style="left:27.14px;top:1123px;font-size:13.2px;">10</span>
<span class="t" style="left:47px;top:1123px;font-size:13.2px;transform:scaleX(1.075);">Mandioca</span>
<span class="t" style="left:247.5px;top:1123px;font-size:13.2px;transform:scaleX(0.955);color:#7c7c7c;">16%</span>
<span class="t" style="left:325.73px;top:1123px;font-size:13.2px;transform:scaleX(0.955);color:#7c7c7c;">3%</span>
<span class="t" style="left:394.5px;top:1123px;font-size:13.2px;transform:scaleX(0.955);color:#7c7c7c;">222%</span>
<span class="t" style="left:469.42px;top:1123px;font-size:13.2px;transform:scaleX(0.955);color:#7c7c7c;">110%</span>
<span class="t" style="left:605.93px;top:1123px;font-size:13.2px;transform:scaleX(0.955);color:#7c7c7c;">0%</span>
<span class="t" style="left:709.33px;top:1123px;font-size:13.2px;transform:scaleX(0.955);color:#7c7c7c;">0%</span>
<span class="t" style="left:916.6px;top:1123px;font-size:13.2px;transform:scaleX(0.955);color:#7c7c7c;">106%</span>
<span class="t" style="left:1013.43px;top:1123px;font-size:13.2px;transform:scaleX(0.955);color:#7c7c7c;">0%</span>
<span class="t" style="left:28.23px;top:1150px;font-size:13.2px;">11</span>
<span class="t" style="left:47px;top:1150px;font-size:13.2px;transform:scaleX(1.115);">Maní</span>
<span class="t" style="left:254.53px;top:1150px;font-size:13.2px;transform:scaleX(0.955);color:#7c7c7c;">5%</span>
<span class="t" style="left:325.73px;top:1150px;font-size:13.2px;transform:scaleX(0.955);color:#7c7c7c;">1%</span>
<span class="t" style="left:401.5px;top:1150px;font-size:13.2px;transform:scaleX(0.955);color:#7c7c7c;">82%</span>
<span class="t" style="left:475.5px;top:1150px;font-size:13.2px;transform:scaleX(0.955);color:#7c7c7c;">81%</span>
<span class="t" style="left:595.65px;top:1150px;font-size:13.2px;transform:scaleX(0.955);color:#7c7c7c;">-11%</span>
<span class="t" style="left:709.33px;top:1150px;font-size:13.2px;transform:scaleX(0.955);color:#7c7c7c;">5%</span>
<span class="t" style="left:847.5px;top:1150px;font-size:13.2px;transform:scaleX(0.955);color:#7c7c7c;">-1%</span>
<span class="t" style="left:1013.43px;top:1150px;font-size:13.2px;transform:scaleX(0.955);color:#7c7c7c;">0%</span>
<span class="t" style="left:27.27px;top:1176px;font-size:13.2px;">12</span>
<span class="t" style="left:47px;top:1176px;font-size:13.2px;transform:scaleX(1.161);">Miel</span>
<span class="t" style="left:254.53px;top:1176px;font-size:13.2px;transform:scaleX(0.955);color:#7c7c7c;">3%</span>
<span class="t" style="left:321.5px;top:1176px;font-size:13.2px;transform:scaleX(0.955);color:#7c7c7c;">-2%</span>
<span class="t" style="left:401.5px;top:1176px;font-size:13.2px;transform:scaleX(0.955);color:#7c7c7c;">35%</span>
<span class="t" style="left:475.5px;top:1176px;font-size:13.2px;transform:scaleX(0.955);color:#7c7c7c;">78%</span>
<span class="t" style="left:605.93px;top:1176px;font-size:13.2px;transform:scaleX(0.955);color:#7c7c7c;">0%</span>
<span class="t" style="left:709.33px;top:1176px;font-size:13.2px;transform:scaleX(0.955);color:#7c7c7c;">0%</span>
<span class="t" style="left:851.73px;top:1176px;font-size:13.2px;transform:scaleX(0.955);color:#7c7c7c;">8%</span>
<span class="t" style="left:1013.43px;top:1176px;font-size:13.2px;transform:scaleX(0.955);color:#7c7c7c;">0%</span>
<span class="t" style="left:27.21px;top:1203px;font-size:13.2px;">13</span>
<span class="t" style="left:47px;top:1203px;font-size:13.2px;transform:scaleX(1.053);">Ovino</span>
<span class="t" style="left:254.53px;top:1203px;font-size:13.2px;transform:scaleX(0.955);color:#7c7c7c;">0%</span>
<span class="t" style="left:321.5px;top:1203px;font-size:13.2px;transform:scaleX(0.955);color:#7c7c7c;">-1%</span>
<span class="t" style="left:401.5px;top:1203px;font-size:13.2px;transform:scaleX(0.955);color:#7c7c7c;">82%</span>
<span class="t" style="left:475.5px;top:1203px;font-size:13.2px;transform:scaleX(0.955);color:#7c7c7c;">88%</span>
<span class="t" style="left:594.71px;top:1203px;font-size:13.2px;transform:scaleX(0.955);color:#7c7c7c;">-14%</span>
<span class="t" style="left:709.33px;top:1203px;font-size:13.2px;transform:scaleX(0.955);color:#7c7c7c;">0%</span>
<span class="t" style="left:840.51px;top:1203px;font-size:13.2px;transform:scaleX(0.955);color:#7c7c7c;">-23%</span>
<span class="t" style="left:923.6px;top:1203px;font-size:13.2px;transform:scaleX(0.955);color:#7c7c7c;">47%</span>
<span class="t" style="left:1013.43px;top:1203px;font-size:13.2px;transform:scaleX(0.955);color:#7c7c7c;">0%</span>
<span class="t" style="left:27.01px;top:1230px;font-size:13.2px;">14</span>
<span class="t" style="left:47px;top:1230px;font-size:13.2px;transform:scaleX(0.990);">Papa</span>
<span class="t" style="left:243.31px;top:1230px;font-size:13.2px;transform:scaleX(0.955);color:#7c7c7c;">-12%</span>
<span class="t" style="left:321.5px;top:1230px;font-size:13.2px;transform:scaleX(0.955);color:#7c7c7c;">-5%</span>
<span class="t" style="left:394.5px;top:1230px;font-size:13.2px;transform:scaleX(0.955);color:#7c7c7c;">345%</span>
<span class="t" style="left:475.5px;top:1230px;font-size:13.2px;transform:scaleX(0.955);color:#7c7c7c;">92%</span>
<span class="t" style="left:605.93px;top:1230px;font-size:13.2px;transform:scaleX(0.955);color:#7c7c7c;">0%</span>
<span class="t" style="left:844.7px;top:1230px;font-size:13.2px;transform:scaleX(0.955);color:#7c7c7c;">17%</span>
<span class="t" style="left:919.41px;top:1230px;font-size:13.2px;transform:scaleX(0.955);color:#7c7c7c;">-25%</span>
<span class="t" style="left:27.18px;top:1256px;font-size:13.2px;">15</span>
<span class="t" style="left:47px;top:1256px;font-size:13.2px;transform:scaleX(1.010);">Peras y Manzanas</span>
<span class="t" style="left:254.53px;top:1256px;font-size:13.2px;transform:scaleX(0.955);color:#7c7c7c;">1%</span>
<span class="t" style="left:321.5px;top:1256px;font-size:13.2px;transform:scaleX(0.955);color:#7c7c7c;">-2%</span>
<span class="t" style="left:394.5px;top:1256px;font-size:13.2px;transform:scaleX(0.955);color:#7c7c7c;">124%</span>
<span class="t" style="left:475.5px;top:1256px;font-size:13.2px;transform:scaleX(0.955);color:#7c7c7c;">87%</span>
<span class="t" style="left:605.93px;top:1256px;font-size:13.2px;transform:scaleX(0.955);color:#7c7c7c;">0%</span>
<span class="t" style="left:698.11px;top:1256px;font-size:13.2px;transform:scaleX(0.955);color:#7c7c7c;">-14%</span>
<span class="t" style="left:840.51px;top:1256px;font-size:13.2px;transform:scaleX(0.955);color:#7c7c7c;">-16%</span>
<span class="t" style="left:919.41px;top:1256px;font-size:13.2px;transform:scaleX(0.955);color:#7c7c7c;">-26%</span>
<span class="t" style="left:27.21px;top:1283px;font-size:13.2px;">16</span>
<span class="t" style="left:47px;top:1283px;font-size:13.2px;transform:scaleX(1.027);">Porcinos</span>
<span class="t" style="left:254.53px;top:1283px;font-size:13.2px;transform:scaleX(0.955);color:#7c7c7c;">5%</span>
<span class="t" style="left:321.5px;top:1283px;font-size:13.2px;transform:scaleX(0.955);color:#7c7c7c;">-5%</span>
<span class="t" style="left:401.5px;top:1283px;font-size:13.2px;transform:scaleX(0.955);color:#7c7c7c;">84%</span>
<span class="t" style="left:475.5px;top:1283px;font-size:13.2px;transform:scaleX(0.955);color:#7c7c7c;">62%</span>
<span class="t" style="left:605.93px;top:1283px;font-size:13.2px;transform:scaleX(0.955);color:#7c7c7c;">2%</span>
<span class="t" style="left:709.33px;top:1283px;font-size:13.2px;transform:scaleX(0.955);color:#7c7c7c;">3%</span>
<span class="t" style="left:840.51px;top:1283px;font-size:13.2px;transform:scaleX(0.955);color:#7c7c7c;">-95%</span>
<span class="t" style="left:919.41px;top:1283px;font-size:13.2px;transform:scaleX(0.955);color:#7c7c7c;">-27%</span>
<span class="t" style="left:1013.43px;top:1283px;font-size:13.2px;transform:scaleX(0.955);color:#7c7c7c;">6%</span>
<span class="t" style="left:27.27px;top:1309px;font-size:13.2px;">17</span>
<span class="t" style="left:47px;top:1309px;font-size:13.2px;transform:scaleX(1.037);">Tabaco</span>
<span class="t" style="left:247.5px;top:1309px;font-size:13.2px;transform:scaleX(0.955);color:#7c7c7c;">47%</span>
<span class="t" style="left:321.5px;top:1309px;font-size:13.2px;transform:scaleX(0.955);color:#7c7c7c;">-1%</span>
<span class="t" style="left:394.5px;top:1309px;font-size:13.2px;transform:scaleX(0.955);color:#7c7c7c;">108%</span>
<span class="t" style="left:475.5px;top:1309px;font-size:13.2px;transform:scaleX(0.955);color:#7c7c7c;">88%</span>
<span class="t" style="left:605.93px;top:1309px;font-size:13.2px;transform:scaleX(0.955);color:#7c7c7c;">0%</span>
<span class="t" style="left:709.33px;top:1309px;font-size:13.2px;transform:scaleX(0.955);color:#7c7c7c;">0%</span>
<span class="t" style="left:844.7px;top:1309px;font-size:13.2px;transform:scaleX(0.955);color:#7c7c7c;">31%</span>
<span class="t" style="left:919.41px;top:1309px;font-size:13.2px;transform:scaleX(0.955);color:#7c7c7c;">-14%</span>
<span class="t" style="left:27.18px;top:1336px;font-size:13.2px;">18</span>
<span class="t" style="left:47px;top:1336px;font-size:13.2px;transform:scaleX(1.073);">Vino y Mosto</span>
<span class="t" style="left:247.5px;top:1336px;font-size:13.2px;transform:scaleX(0.955);color:#7c7c7c;">13%</span>
<span class="t" style="left:325.73px;top:1336px;font-size:13.2px;transform:scaleX(0.955);color:#7c7c7c;">0%</span>
<span class="t" style="left:394.5px;top:1336px;font-size:13.2px;transform:scaleX(0.955);color:#7c7c7c;">150%</span>
<span class="t" style="left:475.5px;top:1336px;font-size:13.2px;transform:scaleX(0.955);color:#7c7c7c;">92%</span>
<span class="t" style="left:601.7px;top:1336px;font-size:13.2px;transform:scaleX(0.955);color:#7c7c7c;">-2%</span>
<span class="t" style="left:698.11px;top:1336px;font-size:13.2px;transform:scaleX(0.955);color:#7c7c7c;">-21%</span>
<span class="t" style="left:847.5px;top:1336px;font-size:13.2px;transform:scaleX(0.955);color:#7c7c7c;">-5%</span>
<span class="t" style="left:930.63px;top:1336px;font-size:13.2px;transform:scaleX(0.955);color:#7c7c7c;">4%</span>
<span class="t" style="left:1002.21px;top:1336px;font-size:13.2px;transform:scaleX(0.955);color:#7c7c7c;">-14%</span>
<span class="t" style="left:27.24px;top:1363px;font-size:13.2px;">19</span>
<span class="t" style="left:47px;top:1363px;font-size:13.2px;transform:scaleX(1.065);">Yerba Mate</span>
<span class="t" style="left:254.53px;top:1363px;font-size:13.2px;transform:scaleX(0.955);color:#7c7c7c;">0%</span>
<span class="t" style="left:321.5px;top:1363px;font-size:13.2px;transform:scaleX(0.955);color:#7c7c7c;">-1%</span>
<span class="t" style="left:401.5px;top:1363px;font-size:13.2px;transform:scaleX(0.955);color:#7c7c7c;">90%</span>
<span class="t" style="left:475.5px;top:1363px;font-size:13.2px;transform:scaleX(0.955);color:#7c7c7c;">92%</span>
<span class="t" style="left:598.9px;top:1363px;font-size:13.2px;transform:scaleX(0.955);color:#7c7c7c;">18%</span>
<span class="t" style="left:705.1px;top:1363px;font-size:13.2px;transform:scaleX(0.955);color:#7c7c7c;">-4%</span>
<span class="t" style="left:844.7px;top:1363px;font-size:13.2px;transform:scaleX(0.955);color:#7c7c7c;">47%</span>
<span class="t" style="left:919.41px;top:1363px;font-size:13.2px;transform:scaleX(0.955);color:#7c7c7c;">-22%</span>
<span class="t" style="left:1009.2px;top:1363px;font-size:13.2px;transform:scaleX(0.955);color:#7c7c7c;">-5%</span>
<svg class="ic" style="left:0;top:860px" width="1280" height="530" viewBox="0 860 1280 530"><circle cx="171.5" cy="890.3" r="7.15" fill="#d9512c" stroke="#a23a1e" stroke-width=".7"/><circle cx="210.5" cy="890" r="7.35" fill="#d9512c" stroke="#a23a1e" stroke-width=".7"/><circle cx="282.5" cy="891.5" r="5.15" fill="#62a58f" stroke="#3f7868" stroke-width=".7"/><circle cx="352.7" cy="891.5" r="5.15" fill="#62a58f" stroke="#3f7868" stroke-width=".7"/><circle cx="436" cy="891.5" r="5.15" fill="#d9512c" stroke="#a23a1e" stroke-width=".7"/><circle cx="509.9" cy="891.5" r="5.15" fill="#62a58f" stroke="#3f7868" stroke-width=".7"/><circle cx="563.9" cy="889.8" r="7.75" fill="#d9512c" stroke="#a23a1e" stroke-width=".7"/><circle cx="633" cy="891.5" r="5.15" fill="#d9512c" stroke="#a23a1e" stroke-width=".7"/><circle cx="806.6" cy="889.8" r="7.75" fill="#d9512c" stroke="#a23a1e" stroke-width=".7"/><circle cx="879.6" cy="891.5" r="5.15" fill="#d9512c" stroke="#a23a1e" stroke-width=".7"/><circle cx="957.7" cy="891.5" r="5.15" fill="#d9512c" stroke="#a23a1e" stroke-width=".7"/><circle cx="1085.2" cy="888.2" r="5.9" fill="#ffff0a"/><circle cx="1099.93" cy="888.2" r="5.9" fill="#88ad3c"/><circle cx="1113.96" cy="888.2" r="5.9" fill="#ffff0a"/><circle cx="1127.99" cy="888.2" r="5.9" fill="#ffff0a"/><circle cx="1142.02" cy="888.2" r="5.9" fill="#ffff0a"/><circle cx="1156.05" cy="888.2" r="5.9" fill="#ffff0a"/><circle cx="1170.08" cy="888.2" r="5.9" fill="#ffff0a"/><circle cx="1184.11" cy="888.2" r="5.9" fill="#ffff0a"/><circle cx="1198.14" cy="888.2" r="5.9" fill="#ffff0a"/><circle cx="1212.17" cy="888.2" r="5.9" fill="#fb9637"/><circle cx="1226.2" cy="888.2" r="5.9" fill="#fb9637"/><circle cx="1240.23" cy="888.2" r="5.9" fill="#c34845"/><circle cx="171.5" cy="916.89" r="7.15" fill="#d9512c" stroke="#a23a1e" stroke-width=".7"/><circle cx="210.5" cy="916.59" r="7.35" fill="#ebbd78" stroke="#b08a45" stroke-width=".7"/><circle cx="282.5" cy="918.09" r="5.15" fill="#d9512c" stroke="#a23a1e" stroke-width=".7"/><circle cx="352.7" cy="918.09" r="5.15" fill="#62a58f" stroke="#3f7868" stroke-width=".7"/><circle cx="436" cy="918.09" r="5.15" fill="#62a58f" stroke="#3f7868" stroke-width=".7"/><circle cx="509.9" cy="918.09" r="5.15" fill="#62a58f" stroke="#3f7868" stroke-width=".7"/><circle cx="563.9" cy="916.39" r="7.75" fill="#d9512c" stroke="#a23a1e" stroke-width=".7"/><circle cx="633" cy="918.09" r="5.15" fill="#d9512c" stroke="#a23a1e" stroke-width=".7"/><circle cx="739.5" cy="917.19" r="7.15" fill="#d9512c" stroke="#a23a1e" stroke-width=".7"/><circle cx="806.6" cy="916.39" r="7.75" fill="#ebbd78" stroke="#b08a45" stroke-width=".7"/><circle cx="879.6" cy="918.09" r="5.15" fill="#62a58f" stroke="#3f7868" stroke-width=".7"/><circle cx="957.7" cy="918.09" r="5.15" fill="#62a58f" stroke="#3f7868" stroke-width=".7"/><circle cx="1040.9" cy="918.09" r="5.15" fill="#ebbd78" stroke="#b08a45" stroke-width=".7"/><circle cx="1085.2" cy="914.79" r="5.9" fill="#c34845"/><circle cx="1099.93" cy="914.79" r="5.9" fill="#c34845"/><circle cx="1113.96" cy="914.79" r="5.9" fill="#c34845"/><circle cx="1127.99" cy="914.79" r="5.9" fill="#fb9637"/><circle cx="1142.02" cy="914.79" r="5.9" fill="#fb9637"/><circle cx="1156.05" cy="914.79" r="5.9" fill="#fb9637"/><circle cx="1170.08" cy="914.79" r="5.9" fill="#fb9637"/><circle cx="1184.11" cy="914.79" r="5.9" fill="#fb9637"/><circle cx="1198.14" cy="914.79" r="5.9" fill="#fb9637"/><circle cx="1212.17" cy="914.79" r="5.9" fill="#fb9637"/><circle cx="1226.2" cy="914.79" r="5.9" fill="#fb9637"/><circle cx="1240.23" cy="914.79" r="5.9" fill="#fb9637"/><circle cx="171.5" cy="943.48" r="7.15" fill="#62a58f" stroke="#3f7868" stroke-width=".7"/><circle cx="210.5" cy="943.18" r="7.35" fill="#ebbd78" stroke="#b08a45" stroke-width=".7"/><circle cx="282.5" cy="944.68" r="5.15" fill="#62a58f" stroke="#3f7868" stroke-width=".7"/><circle cx="352.7" cy="944.68" r="5.15" fill="#62a58f" stroke="#3f7868" stroke-width=".7"/><circle cx="436" cy="944.68" r="5.15" fill="#d9512c" stroke="#a23a1e" stroke-width=".7"/><circle cx="509.9" cy="944.68" r="5.15" fill="#62a58f" stroke="#3f7868" stroke-width=".7"/><circle cx="563.9" cy="942.98" r="7.75" fill="#ebbd78" stroke="#b08a45" stroke-width=".7"/><circle cx="633" cy="944.68" r="5.15" fill="#ebbd78" stroke="#b08a45" stroke-width=".7"/><circle cx="739.5" cy="943.78" r="7.15" fill="#62a58f" stroke="#3f7868" stroke-width=".7"/><circle cx="806.6" cy="942.98" r="7.75" fill="#62a58f" stroke="#3f7868" stroke-width=".7"/><circle cx="879.6" cy="944.68" r="5.15" fill="#62a58f" stroke="#3f7868" stroke-width=".7"/><circle cx="957.7" cy="944.68" r="5.15" fill="#d9512c" stroke="#a23a1e" stroke-width=".7"/><circle cx="1040.9" cy="944.68" r="5.15" fill="#62a58f" stroke="#3f7868" stroke-width=".7"/><circle cx="1085.2" cy="941.38" r="5.9" fill="#fb9637"/><circle cx="1099.93" cy="941.38" r="5.9" fill="#ffff0a"/><circle cx="1113.96" cy="941.38" r="5.9" fill="#88ad3c"/><circle cx="1127.99" cy="941.38" r="5.9" fill="#ffff0a"/><circle cx="1142.02" cy="941.38" r="5.9" fill="#ffff0a"/><circle cx="1156.05" cy="941.38" r="5.9" fill="#ffff0a"/><circle cx="1170.08" cy="941.38" r="5.9" fill="#88ad3c"/><circle cx="1184.11" cy="941.38" r="5.9" fill="#88ad3c"/><circle cx="1198.14" cy="941.38" r="5.9" fill="#88ad3c"/><circle cx="1212.17" cy="941.38" r="5.9" fill="#ffff0a"/><circle cx="1226.2" cy="941.38" r="5.9" fill="#88ad3c"/><circle cx="1240.23" cy="941.38" r="5.9" fill="#88ad3c"/><circle cx="171.5" cy="970.07" r="7.15" fill="#ebbd78" stroke="#b08a45" stroke-width=".7"/><circle cx="210.5" cy="969.77" r="7.35" fill="#d9512c" stroke="#a23a1e" stroke-width=".7"/><circle cx="282.5" cy="971.27" r="5.15" fill="#62a58f" stroke="#3f7868" stroke-width=".7"/><circle cx="352.7" cy="971.27" r="5.15" fill="#62a58f" stroke="#3f7868" stroke-width=".7"/><circle cx="436" cy="971.27" r="5.15" fill="#d9512c" stroke="#a23a1e" stroke-width=".7"/><circle cx="509.9" cy="971.27" r="5.15" fill="#d9512c" stroke="#a23a1e" stroke-width=".7"/><circle cx="563.9" cy="969.57" r="7.75" fill="#ebbd78" stroke="#b08a45" stroke-width=".7"/><circle cx="633" cy="971.27" r="5.15" fill="#d9512c" stroke="#a23a1e" stroke-width=".7"/><circle cx="739.5" cy="970.37" r="7.15" fill="#62a58f" stroke="#3f7868" stroke-width=".7"/><circle cx="806.6" cy="969.57" r="7.75" fill="#62a58f" stroke="#3f7868" stroke-width=".7"/><circle cx="879.6" cy="971.27" r="5.15" fill="#62a58f" stroke="#3f7868" stroke-width=".7"/><circle cx="957.7" cy="971.27" r="5.15" fill="#d9512c" stroke="#a23a1e" stroke-width=".7"/><circle cx="1040.9" cy="971.27" r="5.15" fill="#62a58f" stroke="#3f7868" stroke-width=".7"/><circle cx="1085.2" cy="967.97" r="5.9" fill="#fb9637"/><circle cx="1099.93" cy="967.97" r="5.9" fill="#fb9637"/><circle cx="1113.96" cy="967.97" r="5.9" fill="#fb9637"/><circle cx="1127.99" cy="967.97" r="5.9" fill="#fb9637"/><circle cx="1142.02" cy="967.97" r="5.9" fill="#fb9637"/><circle cx="1156.05" cy="967.97" r="5.9" fill="#fb9637"/><circle cx="1170.08" cy="967.97" r="5.9" fill="#fb9637"/><circle cx="1184.11" cy="967.97" r="5.9" fill="#c34845"/><circle cx="1198.14" cy="967.97" r="5.9" fill="#fb9637"/><circle cx="1212.17" cy="967.97" r="5.9" fill="#c34845"/><circle cx="1226.2" cy="967.97" r="5.9" fill="#fb9637"/><circle cx="1240.23" cy="967.97" r="5.9" fill="#ffff0a"/><circle cx="171.5" cy="996.66" r="7.15" fill="#d9512c" stroke="#a23a1e" stroke-width=".7"/><circle cx="210.5" cy="996.36" r="7.35" fill="#ebbd78" stroke="#b08a45" stroke-width=".7"/><circle cx="282.5" cy="997.86" r="5.15" fill="#62a58f" stroke="#3f7868" stroke-width=".7"/><circle cx="352.7" cy="997.86" r="5.15" fill="#62a58f" stroke="#3f7868" stroke-width=".7"/><circle cx="436" cy="997.86" r="5.15" fill="#62a58f" stroke="#3f7868" stroke-width=".7"/><circle cx="509.9" cy="997.86" r="5.15" fill="#62a58f" stroke="#3f7868" stroke-width=".7"/><circle cx="563.9" cy="996.16" r="7.75" fill="#d9512c" stroke="#a23a1e" stroke-width=".7"/><circle cx="633" cy="997.86" r="5.15" fill="#d9512c" stroke="#a23a1e" stroke-width=".7"/><circle cx="739.5" cy="996.96" r="7.15" fill="#d9512c" stroke="#a23a1e" stroke-width=".7"/><circle cx="806.6" cy="996.16" r="7.75" fill="#d9512c" stroke="#a23a1e" stroke-width=".7"/><circle cx="879.6" cy="997.86" r="5.15" fill="#d9512c" stroke="#a23a1e" stroke-width=".7"/><circle cx="957.7" cy="997.86" r="5.15" fill="#62a58f" stroke="#3f7868" stroke-width=".7"/><circle cx="1085.2" cy="994.56" r="5.9" fill="#c34845"/><circle cx="1099.93" cy="994.56" r="5.9" fill="#c34845"/><circle cx="1113.96" cy="994.56" r="5.9" fill="#c34845"/><circle cx="1127.99" cy="994.56" r="5.9" fill="#c34845"/><circle cx="1142.02" cy="994.56" r="5.9" fill="#c34845"/><circle cx="1156.05" cy="994.56" r="5.9" fill="#c34845"/><circle cx="1170.08" cy="994.56" r="5.9" fill="#c34845"/><circle cx="1184.11" cy="994.56" r="5.9" fill="#fb9637"/><circle cx="1198.14" cy="994.56" r="5.9" fill="#c34845"/><circle cx="1212.17" cy="994.56" r="5.9" fill="#fb9637"/><circle cx="1226.2" cy="994.56" r="5.9" fill="#fb9637"/><circle cx="1240.23" cy="994.56" r="5.9" fill="#fb9637"/><circle cx="171.5" cy="1023.25" r="7.15" fill="#d9512c" stroke="#a23a1e" stroke-width=".7"/><circle cx="210.5" cy="1022.95" r="7.35" fill="#d9512c" stroke="#a23a1e" stroke-width=".7"/><circle cx="282.5" cy="1024.45" r="5.15" fill="#62a58f" stroke="#3f7868" stroke-width=".7"/><circle cx="352.7" cy="1024.45" r="5.15" fill="#62a58f" stroke="#3f7868" stroke-width=".7"/><circle cx="436" cy="1024.45" r="5.15" fill="#d9512c" stroke="#a23a1e" stroke-width=".7"/><circle cx="509.9" cy="1024.45" r="5.15" fill="#d9512c" stroke="#a23a1e" stroke-width=".7"/><circle cx="739.5" cy="1023.55" r="7.15" fill="#ebbd78" stroke="#b08a45" stroke-width=".7"/><circle cx="879.6" cy="1024.45" r="5.15" fill="#d9512c" stroke="#a23a1e" stroke-width=".7"/><circle cx="957.7" cy="1024.45" r="5.15" fill="#d9512c" stroke="#a23a1e" stroke-width=".7"/><circle cx="1085.2" cy="1021.15" r="5.9" fill="#88ad3c"/><circle cx="1099.93" cy="1021.15" r="5.9" fill="#88ad3c"/><circle cx="1113.96" cy="1021.15" r="5.9" fill="#88ad3c"/><circle cx="1127.99" cy="1021.15" r="5.9" fill="#ffff0a"/><circle cx="1142.02" cy="1021.15" r="5.9" fill="#88ad3c"/><circle cx="1156.05" cy="1021.15" r="5.9" fill="#88ad3c"/><circle cx="1170.08" cy="1021.15" r="5.9" fill="#ffff0a"/><circle cx="1184.11" cy="1021.15" r="5.9" fill="#ffff0a"/><circle cx="1198.14" cy="1021.15" r="5.9" fill="#ffff0a"/><circle cx="1212.17" cy="1021.15" r="5.9" fill="#ffff0a"/><circle cx="1226.2" cy="1021.15" r="5.9" fill="#fb9637"/><circle cx="1240.23" cy="1021.15" r="5.9" fill="#fb9637"/><circle cx="171.5" cy="1049.84" r="7.15" fill="#d9512c" stroke="#a23a1e" stroke-width=".7"/><circle cx="210.5" cy="1049.54" r="7.35" fill="#d9512c" stroke="#a23a1e" stroke-width=".7"/><circle cx="282.5" cy="1051.04" r="5.15" fill="#d9512c" stroke="#a23a1e" stroke-width=".7"/><circle cx="352.7" cy="1051.04" r="5.15" fill="#62a58f" stroke="#3f7868" stroke-width=".7"/><circle cx="436" cy="1051.04" r="5.15" fill="#d9512c" stroke="#a23a1e" stroke-width=".7"/><circle cx="509.9" cy="1051.04" r="5.15" fill="#62a58f" stroke="#3f7868" stroke-width=".7"/><circle cx="563.9" cy="1049.34" r="7.75" fill="#d9512c" stroke="#a23a1e" stroke-width=".7"/><circle cx="633" cy="1051.04" r="5.15" fill="#d9512c" stroke="#a23a1e" stroke-width=".7"/><circle cx="739.5" cy="1050.14" r="7.15" fill="#d9512c" stroke="#a23a1e" stroke-width=".7"/><circle cx="806.6" cy="1049.34" r="7.75" fill="#d9512c" stroke="#a23a1e" stroke-width=".7"/><circle cx="879.6" cy="1051.04" r="5.15" fill="#d9512c" stroke="#a23a1e" stroke-width=".7"/><circle cx="957.7" cy="1051.04" r="5.15" fill="#62a58f" stroke="#3f7868" stroke-width=".7"/><circle cx="1040.9" cy="1051.04" r="5.15" fill="#ebbd78" stroke="#b08a45" stroke-width=".7"/><circle cx="1085.2" cy="1047.74" r="5.9" fill="#ffff0a"/><circle cx="1099.93" cy="1047.74" r="5.9" fill="#ffff0a"/><circle cx="1113.96" cy="1047.74" r="5.9" fill="#ffff0a"/><circle cx="1127.99" cy="1047.74" r="5.9" fill="#88ad3c"/><circle cx="1142.02" cy="1047.74" r="5.9" fill="#ffff0a"/><circle cx="1156.05" cy="1047.74" r="5.9" fill="#ffff0a"/><circle cx="1170.08" cy="1047.74" r="5.9" fill="#ffff0a"/><circle cx="1184.11" cy="1047.74" r="5.9" fill="#ffff0a"/><circle cx="1198.14" cy="1047.74" r="5.9" fill="#ffff0a"/><circle cx="1212.17" cy="1047.74" r="5.9" fill="#fb9637"/><circle cx="1226.2" cy="1047.74" r="5.9" fill="#fb9637"/><circle cx="1240.23" cy="1047.74" r="5.9" fill="#c34845"/><circle cx="171.5" cy="1076.43" r="7.15" fill="#ebbd78" stroke="#b08a45" stroke-width=".7"/><circle cx="210.5" cy="1076.13" r="7.35" fill="#d9512c" stroke="#a23a1e" stroke-width=".7"/><circle cx="282.5" cy="1077.63" r="5.15" fill="#d9512c" stroke="#a23a1e" stroke-width=".7"/><circle cx="352.7" cy="1077.63" r="5.15" fill="#d9512c" stroke="#a23a1e" stroke-width=".7"/><circle cx="436" cy="1077.63" r="5.15" fill="#d9512c" stroke="#a23a1e" stroke-width=".7"/><circle cx="509.9" cy="1077.63" r="5.15" fill="#d9512c" stroke="#a23a1e" stroke-width=".7"/><circle cx="563.9" cy="1075.93" r="7.75" fill="#ebbd78" stroke="#b08a45" stroke-width=".7"/><circle cx="633" cy="1077.63" r="5.15" fill="#ebbd78" stroke="#b08a45" stroke-width=".7"/><circle cx="739.5" cy="1076.73" r="7.15" fill="#ebbd78" stroke="#b08a45" stroke-width=".7"/><circle cx="806.6" cy="1075.93" r="7.75" fill="#62a58f" stroke="#3f7868" stroke-width=".7"/><circle cx="879.6" cy="1077.63" r="5.15" fill="#62a58f" stroke="#3f7868" stroke-width=".7"/><circle cx="957.7" cy="1077.63" r="5.15" fill="#d9512c" stroke="#a23a1e" stroke-width=".7"/><circle cx="1085.2" cy="1074.33" r="5.9" fill="#fb9637"/><circle cx="1099.93" cy="1074.33" r="5.9" fill="#c34845"/><circle cx="1113.96" cy="1074.33" r="5.9" fill="#fb9637"/><circle cx="1127.99" cy="1074.33" r="5.9" fill="#fb9637"/><circle cx="1142.02" cy="1074.33" r="5.9" fill="#fb9637"/><circle cx="1156.05" cy="1074.33" r="5.9" fill="#88ad3c"/><circle cx="1170.08" cy="1074.33" r="5.9" fill="#88ad3c"/><circle cx="1184.11" cy="1074.33" r="5.9" fill="#ffff0a"/><circle cx="1198.14" cy="1074.33" r="5.9" fill="#ffff0a"/><circle cx="1212.17" cy="1074.33" r="5.9" fill="#ffff0a"/><circle cx="1226.2" cy="1074.33" r="5.9" fill="#ffff0a"/><circle cx="1240.23" cy="1074.33" r="5.9" fill="#ffff0a"/><circle cx="171.5" cy="1103.02" r="7.15" fill="#d9512c" stroke="#a23a1e" stroke-width=".7"/><circle cx="210.5" cy="1102.72" r="7.35" fill="#d9512c" stroke="#a23a1e" stroke-width=".7"/><circle cx="282.5" cy="1104.22" r="5.15" fill="#d9512c" stroke="#a23a1e" stroke-width=".7"/><circle cx="352.7" cy="1104.22" r="5.15" fill="#62a58f" stroke="#3f7868" stroke-width=".7"/><circle cx="436" cy="1104.22" r="5.15" fill="#d9512c" stroke="#a23a1e" stroke-width=".7"/><circle cx="509.9" cy="1104.22" r="5.15" fill="#62a58f" stroke="#3f7868" stroke-width=".7"/><circle cx="563.9" cy="1102.52" r="7.75" fill="#ebbd78" stroke="#b08a45" stroke-width=".7"/><circle cx="633" cy="1104.22" r="5.15" fill="#ebbd78" stroke="#b08a45" stroke-width=".7"/><circle cx="739.5" cy="1103.32" r="7.15" fill="#62a58f" stroke="#3f7868" stroke-width=".7"/><circle cx="806.6" cy="1102.52" r="7.75" fill="#ebbd78" stroke="#b08a45" stroke-width=".7"/><circle cx="879.6" cy="1104.22" r="5.15" fill="#62a58f" stroke="#3f7868" stroke-width=".7"/><circle cx="957.7" cy="1104.22" r="5.15" fill="#d9512c" stroke="#a23a1e" stroke-width=".7"/><circle cx="1040.9" cy="1104.22" r="5.15" fill="#d9512c" stroke="#a23a1e" stroke-width=".7"/><circle cx="1085.2" cy="1100.92" r="5.9" fill="#fb9637"/><circle cx="1099.93" cy="1100.92" r="5.9" fill="#ffff0a"/><circle cx="1113.96" cy="1100.92" r="5.9" fill="#ffff0a"/><circle cx="1127.99" cy="1100.92" r="5.9" fill="#ffff0a"/><circle cx="1142.02" cy="1100.92" r="5.9" fill="#fb9637"/><circle cx="1156.05" cy="1100.92" r="5.9" fill="#fb9637"/><circle cx="1170.08" cy="1100.92" r="5.9" fill="#fb9637"/><circle cx="1184.11" cy="1100.92" r="5.9" fill="#fb9637"/><circle cx="1198.14" cy="1100.92" r="5.9" fill="#fb9637"/><circle cx="1212.17" cy="1100.92" r="5.9" fill="#fb9637"/><circle cx="1226.2" cy="1100.92" r="5.9" fill="#c34845"/><circle cx="1240.23" cy="1100.92" r="5.9" fill="#c34845"/><circle cx="171.5" cy="1129.61" r="7.15" fill="#d9512c" stroke="#a23a1e" stroke-width=".7"/><circle cx="210.5" cy="1129.31" r="7.35" fill="#ebbd78" stroke="#b08a45" stroke-width=".7"/><circle cx="282.5" cy="1130.81" r="5.15" fill="#62a58f" stroke="#3f7868" stroke-width=".7"/><circle cx="352.7" cy="1130.81" r="5.15" fill="#62a58f" stroke="#3f7868" stroke-width=".7"/><circle cx="436" cy="1130.81" r="5.15" fill="#62a58f" stroke="#3f7868" stroke-width=".7"/><circle cx="509.9" cy="1130.81" r="5.15" fill="#62a58f" stroke="#3f7868" stroke-width=".7"/><circle cx="563.9" cy="1129.11" r="7.75" fill="#ebbd78" stroke="#b08a45" stroke-width=".7"/><circle cx="633" cy="1130.81" r="5.15" fill="#ebbd78" stroke="#b08a45" stroke-width=".7"/><circle cx="739.5" cy="1129.91" r="7.15" fill="#ebbd78" stroke="#b08a45" stroke-width=".7"/><circle cx="806.6" cy="1129.11" r="7.75" fill="#d9512c" stroke="#a23a1e" stroke-width=".7"/><circle cx="957.7" cy="1130.81" r="5.15" fill="#d9512c" stroke="#a23a1e" stroke-width=".7"/><circle cx="1040.9" cy="1130.81" r="5.15" fill="#ebbd78" stroke="#b08a45" stroke-width=".7"/><circle cx="1085.2" cy="1127.51" r="5.9" fill="#fb9637"/><circle cx="1099.93" cy="1127.51" r="5.9" fill="#fb9637"/><circle cx="1113.96" cy="1127.51" r="5.9" fill="#fb9637"/><circle cx="1127.99" cy="1127.51" r="5.9" fill="#ffff0a"/><circle cx="1142.02" cy="1127.51" r="5.9" fill="#ffff0a"/><circle cx="1156.05" cy="1127.51" r="5.9" fill="#ffff0a"/><circle cx="1170.08" cy="1127.51" r="5.9" fill="#ffff0a"/><circle cx="1184.11" cy="1127.51" r="5.9" fill="#ffff0a"/><circle cx="1198.14" cy="1127.51" r="5.9" fill="#ffff0a"/><circle cx="1212.17" cy="1127.51" r="5.9" fill="#ffff0a"/><circle cx="1226.2" cy="1127.51" r="5.9" fill="#fb9637"/><circle cx="1240.23" cy="1127.51" r="5.9" fill="#fb9637"/><circle cx="171.5" cy="1156.2" r="7.15" fill="#d9512c" stroke="#a23a1e" stroke-width=".7"/><circle cx="210.5" cy="1155.9" r="7.35" fill="#d9512c" stroke="#a23a1e" stroke-width=".7"/><circle cx="282.5" cy="1157.4" r="5.15" fill="#d9512c" stroke="#a23a1e" stroke-width=".7"/><circle cx="352.7" cy="1157.4" r="5.15" fill="#62a58f" stroke="#3f7868" stroke-width=".7"/><circle cx="436" cy="1157.4" r="5.15" fill="#d9512c" stroke="#a23a1e" stroke-width=".7"/><circle cx="509.9" cy="1157.4" r="5.15" fill="#62a58f" stroke="#3f7868" stroke-width=".7"/><circle cx="563.9" cy="1155.7" r="7.75" fill="#ebbd78" stroke="#b08a45" stroke-width=".7"/><circle cx="633" cy="1157.4" r="5.15" fill="#d9512c" stroke="#a23a1e" stroke-width=".7"/><circle cx="739.5" cy="1156.5" r="7.15" fill="#62a58f" stroke="#3f7868" stroke-width=".7"/><circle cx="806.6" cy="1155.7" r="7.75" fill="#d9512c" stroke="#a23a1e" stroke-width=".7"/><circle cx="879.6" cy="1157.4" r="5.15" fill="#d9512c" stroke="#a23a1e" stroke-width=".7"/><circle cx="1040.9" cy="1157.4" r="5.15" fill="#ebbd78" stroke="#b08a45" stroke-width=".7"/><circle cx="1085.2" cy="1154.1" r="5.9" fill="#c34845"/><circle cx="1099.93" cy="1154.1" r="5.9" fill="#c34845"/><circle cx="1113.96" cy="1154.1" r="5.9" fill="#c34845"/><circle cx="1127.99" cy="1154.1" r="5.9" fill="#c34845"/><circle cx="1142.02" cy="1154.1" r="5.9" fill="#c34845"/><circle cx="1156.05" cy="1154.1" r="5.9" fill="#c34845"/><circle cx="1170.08" cy="1154.1" r="5.9" fill="#fb9637"/><circle cx="1184.11" cy="1154.1" r="5.9" fill="#fb9637"/><circle cx="1198.14" cy="1154.1" r="5.9" fill="#fb9637"/><circle cx="1212.17" cy="1154.1" r="5.9" fill="#fb9637"/><circle cx="1226.2" cy="1154.1" r="5.9" fill="#fb9637"/><circle cx="1240.23" cy="1154.1" r="5.9" fill="#fb9637"/><circle cx="171.5" cy="1182.79" r="7.15" fill="#d9512c" stroke="#a23a1e" stroke-width=".7"/><circle cx="210.5" cy="1182.49" r="7.35" fill="#d9512c" stroke="#a23a1e" stroke-width=".7"/><circle cx="282.5" cy="1183.99" r="5.15" fill="#d9512c" stroke="#a23a1e" stroke-width=".7"/><circle cx="352.7" cy="1183.99" r="5.15" fill="#62a58f" stroke="#3f7868" stroke-width=".7"/><circle cx="436" cy="1183.99" r="5.15" fill="#d9512c" stroke="#a23a1e" stroke-width=".7"/><circle cx="509.9" cy="1183.99" r="5.15" fill="#d9512c" stroke="#a23a1e" stroke-width=".7"/><circle cx="563.9" cy="1182.29" r="7.75" fill="#ebbd78" stroke="#b08a45" stroke-width=".7"/><circle cx="633" cy="1183.99" r="5.15" fill="#ebbd78" stroke="#b08a45" stroke-width=".7"/><circle cx="739.5" cy="1183.09" r="7.15" fill="#ebbd78" stroke="#b08a45" stroke-width=".7"/><circle cx="806.6" cy="1182.29" r="7.75" fill="#62a58f" stroke="#3f7868" stroke-width=".7"/><circle cx="879.6" cy="1183.99" r="5.15" fill="#62a58f" stroke="#3f7868" stroke-width=".7"/><circle cx="1040.9" cy="1183.99" r="5.15" fill="#ebbd78" stroke="#b08a45" stroke-width=".7"/><circle cx="1085.2" cy="1180.69" r="5.9" fill="#fb9637"/><circle cx="1099.93" cy="1180.69" r="5.9" fill="#c34845"/><circle cx="1113.96" cy="1180.69" r="5.9" fill="#fb9637"/><circle cx="1127.99" cy="1180.69" r="5.9" fill="#ffff0a"/><circle cx="1142.02" cy="1180.69" r="5.9" fill="#ffff0a"/><circle cx="1156.05" cy="1180.69" r="5.9" fill="#ffff0a"/><circle cx="1170.08" cy="1180.69" r="5.9" fill="#fb9637"/><circle cx="1184.11" cy="1180.69" r="5.9" fill="#ffff0a"/><circle cx="1198.14" cy="1180.69" r="5.9" fill="#fb9637"/><circle cx="1212.17" cy="1180.69" r="5.9" fill="#fb9637"/><circle cx="1226.2" cy="1180.69" r="5.9" fill="#fb9637"/><circle cx="1240.23" cy="1180.69" r="5.9" fill="#fb9637"/><circle cx="171.5" cy="1209.38" r="7.15" fill="#d9512c" stroke="#a23a1e" stroke-width=".7"/><circle cx="210.5" cy="1209.08" r="7.35" fill="#d9512c" stroke="#a23a1e" stroke-width=".7"/><circle cx="282.5" cy="1210.58" r="5.15" fill="#d9512c" stroke="#a23a1e" stroke-width=".7"/><circle cx="352.7" cy="1210.58" r="5.15" fill="#62a58f" stroke="#3f7868" stroke-width=".7"/><circle cx="436" cy="1210.58" r="5.15" fill="#d9512c" stroke="#a23a1e" stroke-width=".7"/><circle cx="509.9" cy="1210.58" r="5.15" fill="#d9512c" stroke="#a23a1e" stroke-width=".7"/><circle cx="563.9" cy="1208.88" r="7.75" fill="#d9512c" stroke="#a23a1e" stroke-width=".7"/><circle cx="633" cy="1210.58" r="5.15" fill="#d9512c" stroke="#a23a1e" stroke-width=".7"/><circle cx="739.5" cy="1209.68" r="7.15" fill="#d9512c" stroke="#a23a1e" stroke-width=".7"/><circle cx="806.6" cy="1208.88" r="7.75" fill="#d9512c" stroke="#a23a1e" stroke-width=".7"/><circle cx="879.6" cy="1210.58" r="5.15" fill="#d9512c" stroke="#a23a1e" stroke-width=".7"/><circle cx="957.7" cy="1210.58" r="5.15" fill="#d9512c" stroke="#a23a1e" stroke-width=".7"/><circle cx="1040.9" cy="1210.58" r="5.15" fill="#ebbd78" stroke="#b08a45" stroke-width=".7"/><circle cx="1085.2" cy="1207.28" r="5.9" fill="#ffff0a"/><circle cx="1099.93" cy="1207.28" r="5.9" fill="#ffff0a"/><circle cx="1113.96" cy="1207.28" r="5.9" fill="#ffff0a"/><circle cx="1127.99" cy="1207.28" r="5.9" fill="#88ad3c"/><circle cx="1142.02" cy="1207.28" r="5.9" fill="#88ad3c"/><circle cx="1156.05" cy="1207.28" r="5.9" fill="#88ad3c"/><circle cx="1170.08" cy="1207.28" r="5.9" fill="#fb9637"/><circle cx="1184.11" cy="1207.28" r="5.9" fill="#ffff0a"/><circle cx="1198.14" cy="1207.28" r="5.9" fill="#fb9637"/><circle cx="1212.17" cy="1207.28" r="5.9" fill="#fb9637"/><circle cx="1226.2" cy="1207.28" r="5.9" fill="#fb9637"/><circle cx="1240.23" cy="1207.28" r="5.9" fill="#fb9637"/><circle cx="171.5" cy="1235.97" r="7.15" fill="#ebbd78" stroke="#b08a45" stroke-width=".7"/><circle cx="210.5" cy="1235.67" r="7.35" fill="#ebbd78" stroke="#b08a45" stroke-width=".7"/><circle cx="282.5" cy="1237.17" r="5.15" fill="#d9512c" stroke="#a23a1e" stroke-width=".7"/><circle cx="352.7" cy="1237.17" r="5.15" fill="#d9512c" stroke="#a23a1e" stroke-width=".7"/><circle cx="436" cy="1237.17" r="5.15" fill="#62a58f" stroke="#3f7868" stroke-width=".7"/><circle cx="509.9" cy="1237.17" r="5.15" fill="#62a58f" stroke="#3f7868" stroke-width=".7"/><circle cx="563.9" cy="1235.47" r="7.75" fill="#d9512c" stroke="#a23a1e" stroke-width=".7"/><circle cx="633" cy="1237.17" r="5.15" fill="#ebbd78" stroke="#b08a45" stroke-width=".7"/><circle cx="739.5" cy="1236.27" r="7.15" fill="#d9512c" stroke="#a23a1e" stroke-width=".7"/><circle cx="806.6" cy="1235.47" r="7.75" fill="#62a58f" stroke="#3f7868" stroke-width=".7"/><circle cx="879.6" cy="1237.17" r="5.15" fill="#62a58f" stroke="#3f7868" stroke-width=".7"/><circle cx="957.7" cy="1237.17" r="5.15" fill="#62a58f" stroke="#3f7868" stroke-width=".7"/><circle cx="1085.2" cy="1233.87" r="5.9" fill="#c34845"/><circle cx="1099.93" cy="1233.87" r="5.9" fill="#c34845"/><circle cx="1113.96" cy="1233.87" r="5.9" fill="#c34845"/><circle cx="1127.99" cy="1233.87" r="5.9" fill="#ffff0a"/><circle cx="1142.02" cy="1233.87" r="5.9" fill="#ffff0a"/><circle cx="1156.05" cy="1233.87" r="5.9" fill="#88ad3c"/><circle cx="1170.08" cy="1233.87" r="5.9" fill="#88ad3c"/><circle cx="1184.11" cy="1233.87" r="5.9" fill="#ffff0a"/><circle cx="1198.14" cy="1233.87" r="5.9" fill="#ffff0a"/><circle cx="1212.17" cy="1233.87" r="5.9" fill="#ffff0a"/><circle cx="1226.2" cy="1233.87" r="5.9" fill="#ffff0a"/><circle cx="1240.23" cy="1233.87" r="5.9" fill="#ffff0a"/><circle cx="171.5" cy="1262.56" r="7.15" fill="#d9512c" stroke="#a23a1e" stroke-width=".7"/><circle cx="210.5" cy="1262.26" r="7.35" fill="#ebbd78" stroke="#b08a45" stroke-width=".7"/><circle cx="282.5" cy="1263.76" r="5.15" fill="#d9512c" stroke="#a23a1e" stroke-width=".7"/><circle cx="352.7" cy="1263.76" r="5.15" fill="#62a58f" stroke="#3f7868" stroke-width=".7"/><circle cx="436" cy="1263.76" r="5.15" fill="#62a58f" stroke="#3f7868" stroke-width=".7"/><circle cx="509.9" cy="1263.76" r="5.15" fill="#62a58f" stroke="#3f7868" stroke-width=".7"/><circle cx="563.9" cy="1262.06" r="7.75" fill="#d9512c" stroke="#a23a1e" stroke-width=".7"/><circle cx="633" cy="1263.76" r="5.15" fill="#ebbd78" stroke="#b08a45" stroke-width=".7"/><circle cx="739.5" cy="1262.86" r="7.15" fill="#d9512c" stroke="#a23a1e" stroke-width=".7"/><circle cx="806.6" cy="1262.06" r="7.75" fill="#d9512c" stroke="#a23a1e" stroke-width=".7"/><circle cx="879.6" cy="1263.76" r="5.15" fill="#d9512c" stroke="#a23a1e" stroke-width=".7"/><circle cx="957.7" cy="1263.76" r="5.15" fill="#62a58f" stroke="#3f7868" stroke-width=".7"/><circle cx="1085.2" cy="1260.46" r="5.9" fill="#c34845"/><circle cx="1099.93" cy="1260.46" r="5.9" fill="#c34845"/><circle cx="1113.96" cy="1260.46" r="5.9" fill="#c34845"/><circle cx="1127.99" cy="1260.46" r="5.9" fill="#c34845"/><circle cx="1142.02" cy="1260.46" r="5.9" fill="#c34845"/><circle cx="1156.05" cy="1260.46" r="5.9" fill="#c34845"/><circle cx="1170.08" cy="1260.46" r="5.9" fill="#fb9637"/><circle cx="1184.11" cy="1260.46" r="5.9" fill="#fb9637"/><circle cx="1198.14" cy="1260.46" r="5.9" fill="#fb9637"/><circle cx="1212.17" cy="1260.46" r="5.9" fill="#fb9637"/><circle cx="1226.2" cy="1260.46" r="5.9" fill="#fb9637"/><circle cx="1240.23" cy="1260.46" r="5.9" fill="#fb9637"/><circle cx="171.5" cy="1289.15" r="7.15" fill="#ebbd78" stroke="#b08a45" stroke-width=".7"/><circle cx="210.5" cy="1288.85" r="7.35" fill="#d9512c" stroke="#a23a1e" stroke-width=".7"/><circle cx="282.5" cy="1290.35" r="5.15" fill="#d9512c" stroke="#a23a1e" stroke-width=".7"/><circle cx="352.7" cy="1290.35" r="5.15" fill="#62a58f" stroke="#3f7868" stroke-width=".7"/><circle cx="436" cy="1290.35" r="5.15" fill="#d9512c" stroke="#a23a1e" stroke-width=".7"/><circle cx="509.9" cy="1290.35" r="5.15" fill="#62a58f" stroke="#3f7868" stroke-width=".7"/><circle cx="563.9" cy="1288.65" r="7.75" fill="#62a58f" stroke="#3f7868" stroke-width=".7"/><circle cx="633" cy="1290.35" r="5.15" fill="#62a58f" stroke="#3f7868" stroke-width=".7"/><circle cx="739.5" cy="1289.45" r="7.15" fill="#62a58f" stroke="#3f7868" stroke-width=".7"/><circle cx="806.6" cy="1288.65" r="7.75" fill="#ebbd78" stroke="#b08a45" stroke-width=".7"/><circle cx="879.6" cy="1290.35" r="5.15" fill="#d9512c" stroke="#a23a1e" stroke-width=".7"/><circle cx="957.7" cy="1290.35" r="5.15" fill="#62a58f" stroke="#3f7868" stroke-width=".7"/><circle cx="1040.9" cy="1290.35" r="5.15" fill="#62a58f" stroke="#3f7868" stroke-width=".7"/><circle cx="1085.2" cy="1287.05" r="5.9" fill="#ffff0a"/><circle cx="1099.93" cy="1287.05" r="5.9" fill="#ffff0a"/><circle cx="1113.96" cy="1287.05" r="5.9" fill="#ffff0a"/><circle cx="1127.99" cy="1287.05" r="5.9" fill="#ffff0a"/><circle cx="1142.02" cy="1287.05" r="5.9" fill="#ffff0a"/><circle cx="1156.05" cy="1287.05" r="5.9" fill="#ffff0a"/><circle cx="1170.08" cy="1287.05" r="5.9" fill="#fb9637"/><circle cx="1184.11" cy="1287.05" r="5.9" fill="#88ad3c"/><circle cx="1198.14" cy="1287.05" r="5.9" fill="#fb9637"/><circle cx="1212.17" cy="1287.05" r="5.9" fill="#fb9637"/><circle cx="1226.2" cy="1287.05" r="5.9" fill="#ffff0a"/><circle cx="1240.23" cy="1287.05" r="5.9" fill="#ffff0a"/><circle cx="171.5" cy="1315.74" r="7.15" fill="#ebbd78" stroke="#b08a45" stroke-width=".7"/><circle cx="210.5" cy="1315.44" r="7.35" fill="#ebbd78" stroke="#b08a45" stroke-width=".7"/><circle cx="282.5" cy="1316.94" r="5.15" fill="#62a58f" stroke="#3f7868" stroke-width=".7"/><circle cx="352.7" cy="1316.94" r="5.15" fill="#62a58f" stroke="#3f7868" stroke-width=".7"/><circle cx="436" cy="1316.94" r="5.15" fill="#62a58f" stroke="#3f7868" stroke-width=".7"/><circle cx="509.9" cy="1316.94" r="5.15" fill="#62a58f" stroke="#3f7868" stroke-width=".7"/><circle cx="563.9" cy="1315.24" r="7.75" fill="#ebbd78" stroke="#b08a45" stroke-width=".7"/><circle cx="633" cy="1316.94" r="5.15" fill="#ebbd78" stroke="#b08a45" stroke-width=".7"/><circle cx="739.5" cy="1316.04" r="7.15" fill="#62a58f" stroke="#3f7868" stroke-width=".7"/><circle cx="806.6" cy="1315.24" r="7.75" fill="#ebbd78" stroke="#b08a45" stroke-width=".7"/><circle cx="879.6" cy="1316.94" r="5.15" fill="#62a58f" stroke="#3f7868" stroke-width=".7"/><circle cx="957.7" cy="1316.94" r="5.15" fill="#62a58f" stroke="#3f7868" stroke-width=".7"/><circle cx="1085.2" cy="1313.64" r="5.9" fill="#fb9637"/><circle cx="1099.93" cy="1313.64" r="5.9" fill="#fb9637"/><circle cx="1113.96" cy="1313.64" r="5.9" fill="#fb9637"/><circle cx="1127.99" cy="1313.64" r="5.9" fill="#fb9637"/><circle cx="1142.02" cy="1313.64" r="5.9" fill="#fb9637"/><circle cx="1156.05" cy="1313.64" r="5.9" fill="#fb9637"/><circle cx="1170.08" cy="1313.64" r="5.9" fill="#fb9637"/><circle cx="1184.11" cy="1313.64" r="5.9" fill="#fb9637"/><circle cx="1198.14" cy="1313.64" r="5.9" fill="#ffff0a"/><circle cx="1212.17" cy="1313.64" r="5.9" fill="#ffff0a"/><circle cx="1226.2" cy="1313.64" r="5.9" fill="#ffff0a"/><circle cx="1240.23" cy="1313.64" r="5.9" fill="#ffff0a"/><circle cx="171.5" cy="1342.33" r="7.15" fill="#d9512c" stroke="#a23a1e" stroke-width=".7"/><circle cx="210.5" cy="1342.03" r="7.35" fill="#ebbd78" stroke="#b08a45" stroke-width=".7"/><circle cx="282.5" cy="1343.53" r="5.15" fill="#62a58f" stroke="#3f7868" stroke-width=".7"/><circle cx="352.7" cy="1343.53" r="5.15" fill="#62a58f" stroke="#3f7868" stroke-width=".7"/><circle cx="436" cy="1343.53" r="5.15" fill="#62a58f" stroke="#3f7868" stroke-width=".7"/><circle cx="509.9" cy="1343.53" r="5.15" fill="#62a58f" stroke="#3f7868" stroke-width=".7"/><circle cx="563.9" cy="1341.83" r="7.75" fill="#d9512c" stroke="#a23a1e" stroke-width=".7"/><circle cx="633" cy="1343.53" r="5.15" fill="#d9512c" stroke="#a23a1e" stroke-width=".7"/><circle cx="739.5" cy="1342.63" r="7.15" fill="#d9512c" stroke="#a23a1e" stroke-width=".7"/><circle cx="806.6" cy="1341.83" r="7.75" fill="#d9512c" stroke="#a23a1e" stroke-width=".7"/><circle cx="879.6" cy="1343.53" r="5.15" fill="#d9512c" stroke="#a23a1e" stroke-width=".7"/><circle cx="957.7" cy="1343.53" r="5.15" fill="#d9512c" stroke="#a23a1e" stroke-width=".7"/><circle cx="1040.9" cy="1343.53" r="5.15" fill="#d9512c" stroke="#a23a1e" stroke-width=".7"/><circle cx="1085.2" cy="1340.23" r="5.9" fill="#ffff0a"/><circle cx="1099.93" cy="1340.23" r="5.9" fill="#88ad3c"/><circle cx="1113.96" cy="1340.23" r="5.9" fill="#ffff0a"/><circle cx="1127.99" cy="1340.23" r="5.9" fill="#ffff0a"/><circle cx="1142.02" cy="1340.23" r="5.9" fill="#ffff0a"/><circle cx="1156.05" cy="1340.23" r="5.9" fill="#ffff0a"/><circle cx="1170.08" cy="1340.23" r="5.9" fill="#ffff0a"/><circle cx="1184.11" cy="1340.23" r="5.9" fill="#fb9637"/><circle cx="1198.14" cy="1340.23" r="5.9" fill="#ffff0a"/><circle cx="1212.17" cy="1340.23" r="5.9" fill="#ffff0a"/><circle cx="1226.2" cy="1340.23" r="5.9" fill="#c34845"/><circle cx="1240.23" cy="1340.23" r="5.9" fill="#c34845"/><circle cx="171.5" cy="1368.92" r="7.15" fill="#d9512c" stroke="#a23a1e" stroke-width=".7"/><circle cx="210.5" cy="1368.62" r="7.35" fill="#d9512c" stroke="#a23a1e" stroke-width=".7"/><circle cx="282.5" cy="1370.12" r="5.15" fill="#d9512c" stroke="#a23a1e" stroke-width=".7"/><circle cx="352.7" cy="1370.12" r="5.15" fill="#62a58f" stroke="#3f7868" stroke-width=".7"/><circle cx="436" cy="1370.12" r="5.15" fill="#d9512c" stroke="#a23a1e" stroke-width=".7"/><circle cx="509.9" cy="1370.12" r="5.15" fill="#d9512c" stroke="#a23a1e" stroke-width=".7"/><circle cx="563.9" cy="1368.42" r="7.75" fill="#ebbd78" stroke="#b08a45" stroke-width=".7"/><circle cx="633" cy="1370.12" r="5.15" fill="#62a58f" stroke="#3f7868" stroke-width=".7"/><circle cx="739.5" cy="1369.22" r="7.15" fill="#d9512c" stroke="#a23a1e" stroke-width=".7"/><circle cx="806.6" cy="1368.42" r="7.75" fill="#ebbd78" stroke="#b08a45" stroke-width=".7"/><circle cx="879.6" cy="1370.12" r="5.15" fill="#62a58f" stroke="#3f7868" stroke-width=".7"/><circle cx="957.7" cy="1370.12" r="5.15" fill="#62a58f" stroke="#3f7868" stroke-width=".7"/><circle cx="1040.9" cy="1370.12" r="5.15" fill="#d9512c" stroke="#a23a1e" stroke-width=".7"/><circle cx="1085.2" cy="1366.82" r="5.9" fill="#ffff0a"/><circle cx="1099.93" cy="1366.82" r="5.9" fill="#fb9637"/><circle cx="1113.96" cy="1366.82" r="5.9" fill="#fb9637"/><circle cx="1127.99" cy="1366.82" r="5.9" fill="#fb9637"/><circle cx="1142.02" cy="1366.82" r="5.9" fill="#fb9637"/><circle cx="1156.05" cy="1366.82" r="5.9" fill="#fb9637"/><circle cx="1170.08" cy="1366.82" r="5.9" fill="#fb9637"/><circle cx="1184.11" cy="1366.82" r="5.9" fill="#ffff0a"/><circle cx="1198.14" cy="1366.82" r="5.9" fill="#fb9637"/><circle cx="1212.17" cy="1366.82" r="5.9" fill="#fb9637"/><circle cx="1226.2" cy="1366.82" r="5.9" fill="#fb9637"/><circle cx="1240.23" cy="1366.82" r="5.9" fill="#fb9637"/></svg>
<div class="b" style="left:0px;top:1385px;width:1280px;height:7px;background:#8dbdb5;"></div>
<div class="b" style="left:0px;top:1392px;width:1280px;height:48px;background:#00705f;"></div>
<span class="t" style="left:15.33px;top:1410px;font-size:20.5px;transform:scaleX(1.047);color:#fff;">Semáforo de Economías Regionales de MARZO 2023 con Información a Feb-23.</span>
<span class="t" style="left:826.35px;top:1410px;font-size:20.5px;transform:scaleX(1.037);color:#fff;">@scamposcarles</span>
</div>
</body>
</html>
